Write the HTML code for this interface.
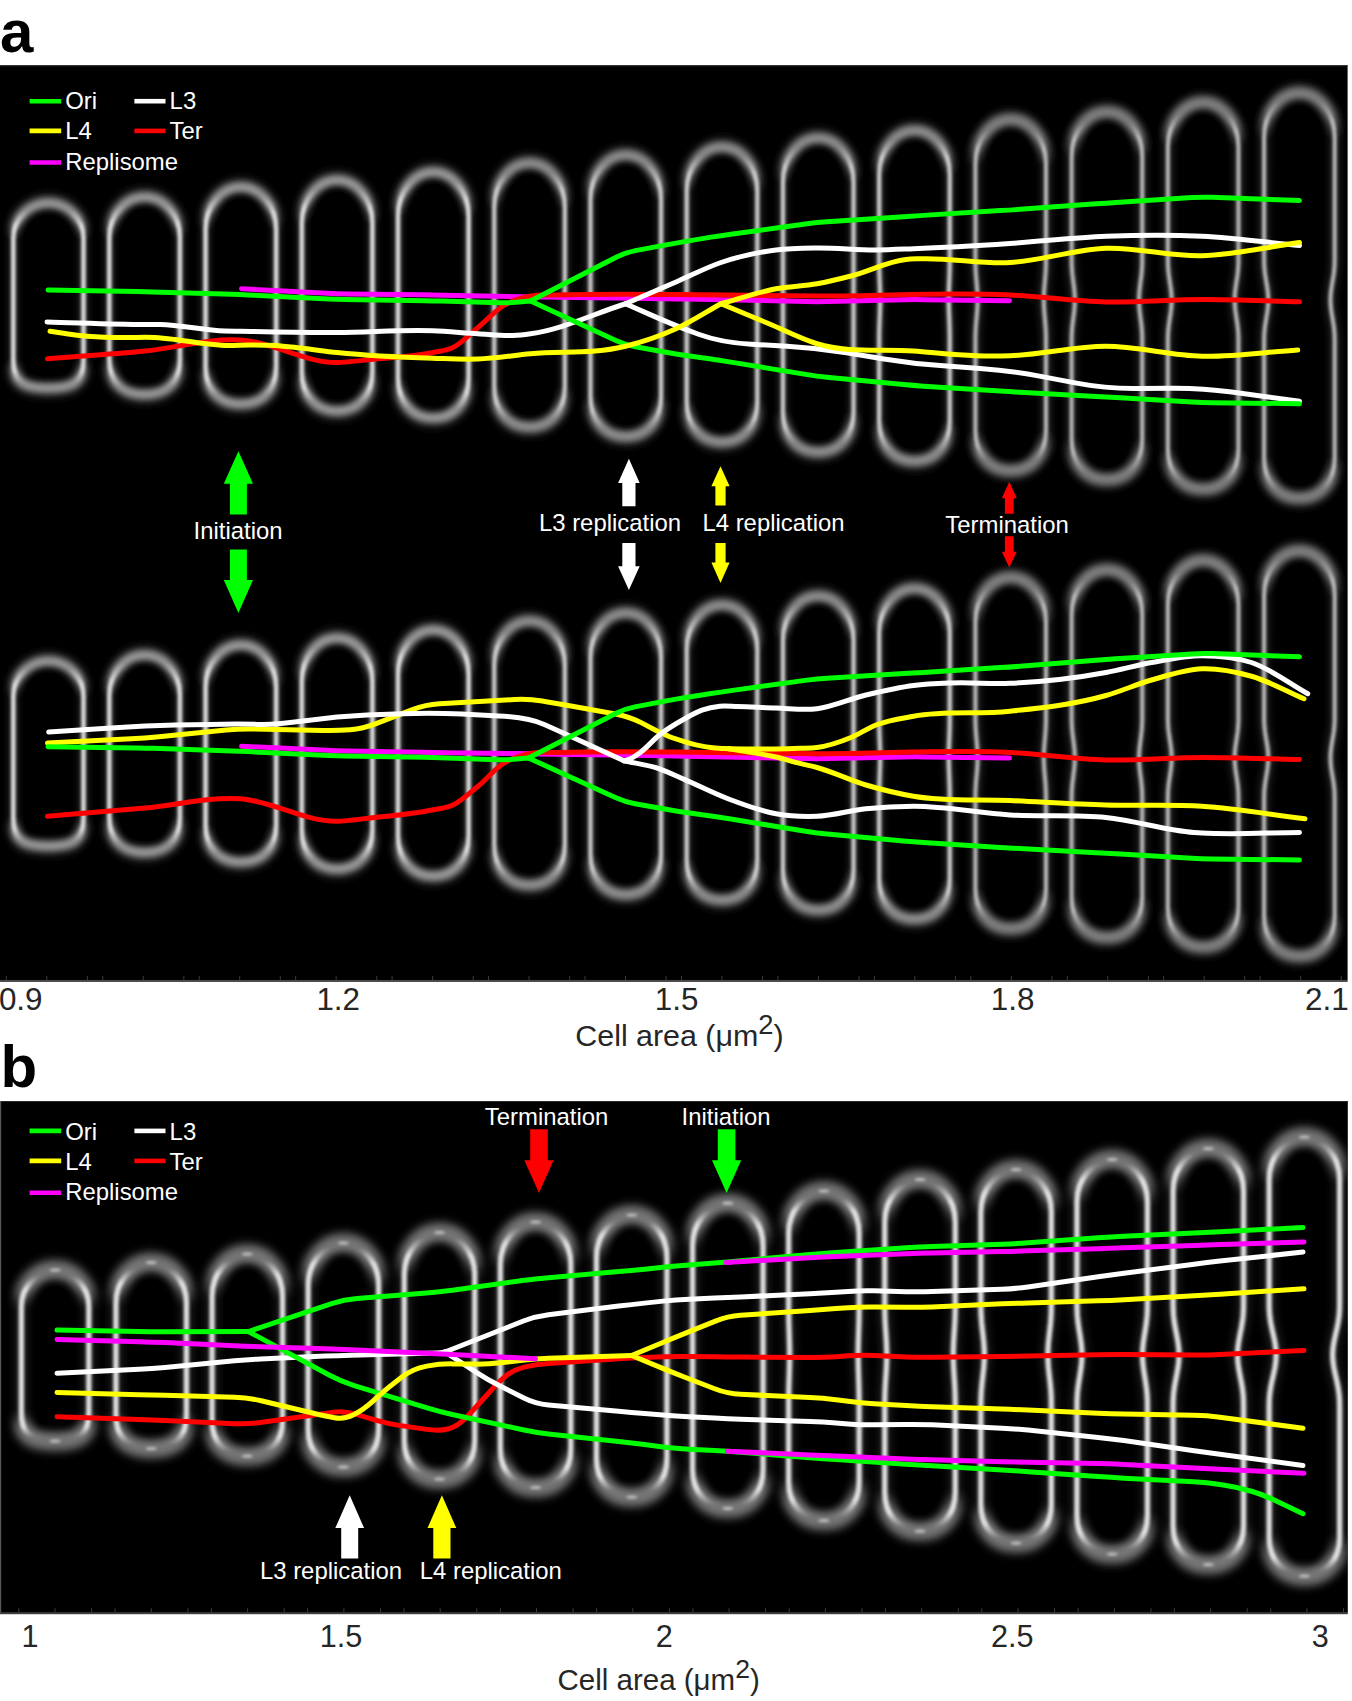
<!DOCTYPE html>
<html lang="en">
<head>
<meta charset="utf-8">
<title>Figure</title>
<style>
html,body{margin:0;padding:0;background:#fff;}
body{width:1352px;height:1701px;overflow:hidden;}
svg{display:block;font-family:"Liberation Sans",sans-serif;}
</style>
</head>
<body>
<svg width="1352" height="1701" viewBox="0 0 1352 1701">
<defs>
<filter id="bl1" filterUnits="userSpaceOnUse" x="-40" y="0" width="1440" height="1701"><feGaussianBlur stdDeviation="1.5"/></filter>
<filter id="bl3" filterUnits="userSpaceOnUse" x="-40" y="0" width="1440" height="1701"><feGaussianBlur stdDeviation="4"/></filter>
<filter id="bl5" filterUnits="userSpaceOnUse" x="-40" y="0" width="1440" height="1701"><feGaussianBlur stdDeviation="5"/></filter>
<filter id="bl2b" filterUnits="userSpaceOnUse" x="-40" y="0" width="1440" height="1701"><feGaussianBlur stdDeviation="3.5"/></filter>
<filter id="bl2" filterUnits="userSpaceOnUse" x="-40" y="0" width="1440" height="1701"><feGaussianBlur stdDeviation="3"/></filter>
<linearGradient id="g1" gradientUnits="userSpaceOnUse" x1="0" y1="203" x2="0" y2="388"><stop offset="0" stop-color="#e0e0e0" stop-opacity="0"/><stop offset="0.04" stop-color="#e0e0e0" stop-opacity="0"/><stop offset="0.12" stop-color="#e0e0e0" stop-opacity="1"/><stop offset="0.91" stop-color="#e0e0e0" stop-opacity="1"/><stop offset="0.97" stop-color="#e0e0e0" stop-opacity="0"/><stop offset="1" stop-color="#e0e0e0" stop-opacity="0"/></linearGradient>
<linearGradient id="h1" gradientUnits="userSpaceOnUse" x1="0" y1="203" x2="0" y2="388"><stop offset="0.08" stop-color="#a0a0a0" stop-opacity="1"/><stop offset="0.19" stop-color="#a0a0a0" stop-opacity="0.25"/><stop offset="0.85" stop-color="#a0a0a0" stop-opacity="0.25"/><stop offset="0.94" stop-color="#a0a0a0" stop-opacity="1"/></linearGradient>
<linearGradient id="g2" gradientUnits="userSpaceOnUse" x1="0" y1="197" x2="0" y2="394.5"><stop offset="0" stop-color="#e0e0e0" stop-opacity="0"/><stop offset="0.04" stop-color="#e0e0e0" stop-opacity="0"/><stop offset="0.13" stop-color="#e0e0e0" stop-opacity="1"/><stop offset="0.89" stop-color="#e0e0e0" stop-opacity="1"/><stop offset="0.96" stop-color="#e0e0e0" stop-opacity="0"/><stop offset="1" stop-color="#e0e0e0" stop-opacity="0"/></linearGradient>
<linearGradient id="h2" gradientUnits="userSpaceOnUse" x1="0" y1="197" x2="0" y2="394.5"><stop offset="0.08" stop-color="#a0a0a0" stop-opacity="1"/><stop offset="0.2" stop-color="#a0a0a0" stop-opacity="0.25"/><stop offset="0.82" stop-color="#a0a0a0" stop-opacity="0.25"/><stop offset="0.93" stop-color="#a0a0a0" stop-opacity="1"/></linearGradient>
<linearGradient id="g3" gradientUnits="userSpaceOnUse" x1="0" y1="187" x2="0" y2="404"><stop offset="0" stop-color="#e0e0e0" stop-opacity="0"/><stop offset="0.04" stop-color="#e0e0e0" stop-opacity="0"/><stop offset="0.12" stop-color="#e0e0e0" stop-opacity="1"/><stop offset="0.89" stop-color="#e0e0e0" stop-opacity="1"/><stop offset="0.96" stop-color="#e0e0e0" stop-opacity="0"/><stop offset="1" stop-color="#e0e0e0" stop-opacity="0"/></linearGradient>
<linearGradient id="h3" gradientUnits="userSpaceOnUse" x1="0" y1="187" x2="0" y2="404"><stop offset="0.08" stop-color="#a0a0a0" stop-opacity="1"/><stop offset="0.19" stop-color="#a0a0a0" stop-opacity="0.25"/><stop offset="0.83" stop-color="#a0a0a0" stop-opacity="0.25"/><stop offset="0.93" stop-color="#a0a0a0" stop-opacity="1"/></linearGradient>
<linearGradient id="g4" gradientUnits="userSpaceOnUse" x1="0" y1="180" x2="0" y2="411"><stop offset="0" stop-color="#e0e0e0" stop-opacity="0"/><stop offset="0.04" stop-color="#e0e0e0" stop-opacity="0"/><stop offset="0.12" stop-color="#e0e0e0" stop-opacity="1"/><stop offset="0.9" stop-color="#e0e0e0" stop-opacity="1"/><stop offset="0.96" stop-color="#e0e0e0" stop-opacity="0"/><stop offset="1" stop-color="#e0e0e0" stop-opacity="0"/></linearGradient>
<linearGradient id="h4" gradientUnits="userSpaceOnUse" x1="0" y1="180" x2="0" y2="411"><stop offset="0.07" stop-color="#a0a0a0" stop-opacity="1"/><stop offset="0.19" stop-color="#a0a0a0" stop-opacity="0.25"/><stop offset="0.83" stop-color="#a0a0a0" stop-opacity="0.25"/><stop offset="0.93" stop-color="#a0a0a0" stop-opacity="1"/></linearGradient>
<linearGradient id="g5" gradientUnits="userSpaceOnUse" x1="0" y1="172" x2="0" y2="418"><stop offset="0" stop-color="#e0e0e0" stop-opacity="0"/><stop offset="0.04" stop-color="#e0e0e0" stop-opacity="0"/><stop offset="0.11" stop-color="#e0e0e0" stop-opacity="1"/><stop offset="0.9" stop-color="#e0e0e0" stop-opacity="1"/><stop offset="0.96" stop-color="#e0e0e0" stop-opacity="0"/><stop offset="1" stop-color="#e0e0e0" stop-opacity="0"/></linearGradient>
<linearGradient id="h5" gradientUnits="userSpaceOnUse" x1="0" y1="172" x2="0" y2="418"><stop offset="0.07" stop-color="#a0a0a0" stop-opacity="1"/><stop offset="0.18" stop-color="#a0a0a0" stop-opacity="0.25"/><stop offset="0.84" stop-color="#a0a0a0" stop-opacity="0.25"/><stop offset="0.93" stop-color="#a0a0a0" stop-opacity="1"/></linearGradient>
<linearGradient id="z6" gradientUnits="userSpaceOnUse" x1="0" y1="203" x2="0" y2="388"><stop offset="0.09" stop-color="#343434" stop-opacity="1"/><stop offset="0.19" stop-color="#343434" stop-opacity="0"/><stop offset="0.85" stop-color="#343434" stop-opacity="0"/><stop offset="0.93" stop-color="#343434" stop-opacity="1"/></linearGradient>
<linearGradient id="z7" gradientUnits="userSpaceOnUse" x1="0" y1="197" x2="0" y2="394.5"><stop offset="0.09" stop-color="#343434" stop-opacity="1"/><stop offset="0.2" stop-color="#343434" stop-opacity="0"/><stop offset="0.82" stop-color="#343434" stop-opacity="0"/><stop offset="0.92" stop-color="#343434" stop-opacity="1"/></linearGradient>
<linearGradient id="z8" gradientUnits="userSpaceOnUse" x1="0" y1="187" x2="0" y2="404"><stop offset="0.09" stop-color="#343434" stop-opacity="1"/><stop offset="0.19" stop-color="#343434" stop-opacity="0"/><stop offset="0.83" stop-color="#343434" stop-opacity="0"/><stop offset="0.92" stop-color="#343434" stop-opacity="1"/></linearGradient>
<linearGradient id="z9" gradientUnits="userSpaceOnUse" x1="0" y1="180" x2="0" y2="411"><stop offset="0.08" stop-color="#343434" stop-opacity="1"/><stop offset="0.19" stop-color="#343434" stop-opacity="0"/><stop offset="0.83" stop-color="#343434" stop-opacity="0"/><stop offset="0.92" stop-color="#343434" stop-opacity="1"/></linearGradient>
<linearGradient id="z10" gradientUnits="userSpaceOnUse" x1="0" y1="172" x2="0" y2="418"><stop offset="0.08" stop-color="#343434" stop-opacity="1"/><stop offset="0.18" stop-color="#343434" stop-opacity="0"/><stop offset="0.84" stop-color="#343434" stop-opacity="0"/><stop offset="0.93" stop-color="#343434" stop-opacity="1"/></linearGradient>
<linearGradient id="g11" gradientUnits="userSpaceOnUse" x1="0" y1="163" x2="0" y2="427"><stop offset="0" stop-color="#d2d2d2" stop-opacity="0"/><stop offset="0.04" stop-color="#d2d2d2" stop-opacity="0"/><stop offset="0.1" stop-color="#d2d2d2" stop-opacity="1"/><stop offset="0.91" stop-color="#d2d2d2" stop-opacity="1"/><stop offset="0.97" stop-color="#d2d2d2" stop-opacity="0"/><stop offset="1" stop-color="#d2d2d2" stop-opacity="0"/></linearGradient>
<linearGradient id="h11" gradientUnits="userSpaceOnUse" x1="0" y1="163" x2="0" y2="427"><stop offset="0.07" stop-color="#929292" stop-opacity="1"/><stop offset="0.17" stop-color="#929292" stop-opacity="0.25"/><stop offset="0.85" stop-color="#929292" stop-opacity="0.25"/><stop offset="0.94" stop-color="#929292" stop-opacity="1"/></linearGradient>
<linearGradient id="g12" gradientUnits="userSpaceOnUse" x1="0" y1="155" x2="0" y2="436.5"><stop offset="0" stop-color="#d2d2d2" stop-opacity="0"/><stop offset="0.03" stop-color="#d2d2d2" stop-opacity="0"/><stop offset="0.1" stop-color="#d2d2d2" stop-opacity="1"/><stop offset="0.91" stop-color="#d2d2d2" stop-opacity="1"/><stop offset="0.97" stop-color="#d2d2d2" stop-opacity="0"/><stop offset="1" stop-color="#d2d2d2" stop-opacity="0"/></linearGradient>
<linearGradient id="h12" gradientUnits="userSpaceOnUse" x1="0" y1="155" x2="0" y2="436.5"><stop offset="0.06" stop-color="#929292" stop-opacity="1"/><stop offset="0.16" stop-color="#929292" stop-opacity="0.25"/><stop offset="0.86" stop-color="#929292" stop-opacity="0.25"/><stop offset="0.94" stop-color="#929292" stop-opacity="1"/></linearGradient>
<linearGradient id="g13" gradientUnits="userSpaceOnUse" x1="0" y1="147" x2="0" y2="442"><stop offset="0" stop-color="#d2d2d2" stop-opacity="0"/><stop offset="0.03" stop-color="#d2d2d2" stop-opacity="0"/><stop offset="0.09" stop-color="#d2d2d2" stop-opacity="1"/><stop offset="0.92" stop-color="#d2d2d2" stop-opacity="1"/><stop offset="0.97" stop-color="#d2d2d2" stop-opacity="0"/><stop offset="1" stop-color="#d2d2d2" stop-opacity="0"/></linearGradient>
<linearGradient id="h13" gradientUnits="userSpaceOnUse" x1="0" y1="147" x2="0" y2="442"><stop offset="0.06" stop-color="#929292" stop-opacity="1"/><stop offset="0.15" stop-color="#929292" stop-opacity="0.25"/><stop offset="0.86" stop-color="#929292" stop-opacity="0.25"/><stop offset="0.95" stop-color="#929292" stop-opacity="1"/></linearGradient>
<linearGradient id="g14" gradientUnits="userSpaceOnUse" x1="0" y1="138" x2="0" y2="452"><stop offset="0" stop-color="#d2d2d2" stop-opacity="0"/><stop offset="0.03" stop-color="#d2d2d2" stop-opacity="0"/><stop offset="0.09" stop-color="#d2d2d2" stop-opacity="1"/><stop offset="0.92" stop-color="#d2d2d2" stop-opacity="1"/><stop offset="0.97" stop-color="#d2d2d2" stop-opacity="0"/><stop offset="1" stop-color="#d2d2d2" stop-opacity="0"/></linearGradient>
<linearGradient id="h14" gradientUnits="userSpaceOnUse" x1="0" y1="138" x2="0" y2="452"><stop offset="0.06" stop-color="#929292" stop-opacity="1"/><stop offset="0.14" stop-color="#929292" stop-opacity="0.25"/><stop offset="0.87" stop-color="#929292" stop-opacity="0.25"/><stop offset="0.95" stop-color="#929292" stop-opacity="1"/></linearGradient>
<linearGradient id="g15" gradientUnits="userSpaceOnUse" x1="0" y1="130.5" x2="0" y2="461"><stop offset="0" stop-color="#d2d2d2" stop-opacity="0"/><stop offset="0.03" stop-color="#d2d2d2" stop-opacity="0"/><stop offset="0.08" stop-color="#d2d2d2" stop-opacity="1"/><stop offset="0.92" stop-color="#d2d2d2" stop-opacity="1"/><stop offset="0.97" stop-color="#d2d2d2" stop-opacity="0"/><stop offset="1" stop-color="#d2d2d2" stop-opacity="0"/></linearGradient>
<linearGradient id="h15" gradientUnits="userSpaceOnUse" x1="0" y1="130.5" x2="0" y2="461"><stop offset="0.05" stop-color="#929292" stop-opacity="1"/><stop offset="0.13" stop-color="#929292" stop-opacity="0.25"/><stop offset="0.88" stop-color="#929292" stop-opacity="0.25"/><stop offset="0.95" stop-color="#929292" stop-opacity="1"/></linearGradient>
<linearGradient id="z16" gradientUnits="userSpaceOnUse" x1="0" y1="163" x2="0" y2="427"><stop offset="0.07" stop-color="#343434" stop-opacity="1"/><stop offset="0.17" stop-color="#343434" stop-opacity="0"/><stop offset="0.85" stop-color="#343434" stop-opacity="0"/><stop offset="0.93" stop-color="#343434" stop-opacity="1"/></linearGradient>
<linearGradient id="z17" gradientUnits="userSpaceOnUse" x1="0" y1="155" x2="0" y2="436.5"><stop offset="0.07" stop-color="#343434" stop-opacity="1"/><stop offset="0.16" stop-color="#343434" stop-opacity="0"/><stop offset="0.86" stop-color="#343434" stop-opacity="0"/><stop offset="0.94" stop-color="#343434" stop-opacity="1"/></linearGradient>
<linearGradient id="z18" gradientUnits="userSpaceOnUse" x1="0" y1="147" x2="0" y2="442"><stop offset="0.07" stop-color="#343434" stop-opacity="1"/><stop offset="0.15" stop-color="#343434" stop-opacity="0"/><stop offset="0.86" stop-color="#343434" stop-opacity="0"/><stop offset="0.94" stop-color="#343434" stop-opacity="1"/></linearGradient>
<linearGradient id="z19" gradientUnits="userSpaceOnUse" x1="0" y1="138" x2="0" y2="452"><stop offset="0.06" stop-color="#343434" stop-opacity="1"/><stop offset="0.14" stop-color="#343434" stop-opacity="0"/><stop offset="0.87" stop-color="#343434" stop-opacity="0"/><stop offset="0.94" stop-color="#343434" stop-opacity="1"/></linearGradient>
<linearGradient id="z20" gradientUnits="userSpaceOnUse" x1="0" y1="130.5" x2="0" y2="461"><stop offset="0.06" stop-color="#343434" stop-opacity="1"/><stop offset="0.13" stop-color="#343434" stop-opacity="0"/><stop offset="0.88" stop-color="#343434" stop-opacity="0"/><stop offset="0.95" stop-color="#343434" stop-opacity="1"/></linearGradient>
<linearGradient id="g21" gradientUnits="userSpaceOnUse" x1="0" y1="119.5" x2="0" y2="470.5"><stop offset="0" stop-color="#c2c2c2" stop-opacity="0"/><stop offset="0.03" stop-color="#c2c2c2" stop-opacity="0"/><stop offset="0.08" stop-color="#c2c2c2" stop-opacity="1"/><stop offset="0.93" stop-color="#c2c2c2" stop-opacity="1"/><stop offset="0.97" stop-color="#c2c2c2" stop-opacity="0"/><stop offset="1" stop-color="#c2c2c2" stop-opacity="0"/></linearGradient>
<linearGradient id="h21" gradientUnits="userSpaceOnUse" x1="0" y1="119.5" x2="0" y2="470.5"><stop offset="0.05" stop-color="#848484" stop-opacity="1"/><stop offset="0.13" stop-color="#848484" stop-opacity="0.25"/><stop offset="0.89" stop-color="#848484" stop-opacity="0.25"/><stop offset="0.95" stop-color="#848484" stop-opacity="1"/></linearGradient>
<linearGradient id="g22" gradientUnits="userSpaceOnUse" x1="0" y1="112" x2="0" y2="479.5"><stop offset="0" stop-color="#c2c2c2" stop-opacity="0"/><stop offset="0.03" stop-color="#c2c2c2" stop-opacity="0"/><stop offset="0.07" stop-color="#c2c2c2" stop-opacity="1"/><stop offset="0.93" stop-color="#c2c2c2" stop-opacity="1"/><stop offset="0.98" stop-color="#c2c2c2" stop-opacity="0"/><stop offset="1" stop-color="#c2c2c2" stop-opacity="0"/></linearGradient>
<linearGradient id="h22" gradientUnits="userSpaceOnUse" x1="0" y1="112" x2="0" y2="479.5"><stop offset="0.05" stop-color="#848484" stop-opacity="1"/><stop offset="0.12" stop-color="#848484" stop-opacity="0.25"/><stop offset="0.89" stop-color="#848484" stop-opacity="0.25"/><stop offset="0.96" stop-color="#848484" stop-opacity="1"/></linearGradient>
<linearGradient id="g23" gradientUnits="userSpaceOnUse" x1="0" y1="102.5" x2="0" y2="489"><stop offset="0" stop-color="#c2c2c2" stop-opacity="0"/><stop offset="0.03" stop-color="#c2c2c2" stop-opacity="0"/><stop offset="0.07" stop-color="#c2c2c2" stop-opacity="1"/><stop offset="0.94" stop-color="#c2c2c2" stop-opacity="1"/><stop offset="0.98" stop-color="#c2c2c2" stop-opacity="0"/><stop offset="1" stop-color="#c2c2c2" stop-opacity="0"/></linearGradient>
<linearGradient id="h23" gradientUnits="userSpaceOnUse" x1="0" y1="102.5" x2="0" y2="489"><stop offset="0.05" stop-color="#848484" stop-opacity="1"/><stop offset="0.11" stop-color="#848484" stop-opacity="0.25"/><stop offset="0.9" stop-color="#848484" stop-opacity="0.25"/><stop offset="0.96" stop-color="#848484" stop-opacity="1"/></linearGradient>
<linearGradient id="g24" gradientUnits="userSpaceOnUse" x1="0" y1="93" x2="0" y2="498"><stop offset="0" stop-color="#c2c2c2" stop-opacity="0"/><stop offset="0.02" stop-color="#c2c2c2" stop-opacity="0"/><stop offset="0.07" stop-color="#c2c2c2" stop-opacity="1"/><stop offset="0.94" stop-color="#c2c2c2" stop-opacity="1"/><stop offset="0.98" stop-color="#c2c2c2" stop-opacity="0"/><stop offset="1" stop-color="#c2c2c2" stop-opacity="0"/></linearGradient>
<linearGradient id="h24" gradientUnits="userSpaceOnUse" x1="0" y1="93" x2="0" y2="498"><stop offset="0.04" stop-color="#848484" stop-opacity="1"/><stop offset="0.11" stop-color="#848484" stop-opacity="0.25"/><stop offset="0.9" stop-color="#848484" stop-opacity="0.25"/><stop offset="0.96" stop-color="#848484" stop-opacity="1"/></linearGradient>
<linearGradient id="z25" gradientUnits="userSpaceOnUse" x1="0" y1="119.5" x2="0" y2="470.5"><stop offset="0.06" stop-color="#343434" stop-opacity="1"/><stop offset="0.13" stop-color="#343434" stop-opacity="0"/><stop offset="0.89" stop-color="#343434" stop-opacity="0"/><stop offset="0.95" stop-color="#343434" stop-opacity="1"/></linearGradient>
<linearGradient id="z26" gradientUnits="userSpaceOnUse" x1="0" y1="112" x2="0" y2="479.5"><stop offset="0.05" stop-color="#343434" stop-opacity="1"/><stop offset="0.12" stop-color="#343434" stop-opacity="0"/><stop offset="0.89" stop-color="#343434" stop-opacity="0"/><stop offset="0.95" stop-color="#343434" stop-opacity="1"/></linearGradient>
<linearGradient id="z27" gradientUnits="userSpaceOnUse" x1="0" y1="102.5" x2="0" y2="489"><stop offset="0.05" stop-color="#343434" stop-opacity="1"/><stop offset="0.11" stop-color="#343434" stop-opacity="0"/><stop offset="0.9" stop-color="#343434" stop-opacity="0"/><stop offset="0.95" stop-color="#343434" stop-opacity="1"/></linearGradient>
<linearGradient id="z28" gradientUnits="userSpaceOnUse" x1="0" y1="93" x2="0" y2="498"><stop offset="0.05" stop-color="#343434" stop-opacity="1"/><stop offset="0.11" stop-color="#343434" stop-opacity="0"/><stop offset="0.9" stop-color="#343434" stop-opacity="0"/><stop offset="0.96" stop-color="#343434" stop-opacity="1"/></linearGradient>
<linearGradient id="g29" gradientUnits="userSpaceOnUse" x1="0" y1="661" x2="0" y2="846"><stop offset="0" stop-color="#e0e0e0" stop-opacity="0"/><stop offset="0.04" stop-color="#e0e0e0" stop-opacity="0"/><stop offset="0.12" stop-color="#e0e0e0" stop-opacity="1"/><stop offset="0.91" stop-color="#e0e0e0" stop-opacity="1"/><stop offset="0.97" stop-color="#e0e0e0" stop-opacity="0"/><stop offset="1" stop-color="#e0e0e0" stop-opacity="0"/></linearGradient>
<linearGradient id="h29" gradientUnits="userSpaceOnUse" x1="0" y1="661" x2="0" y2="846"><stop offset="0.08" stop-color="#a0a0a0" stop-opacity="1"/><stop offset="0.19" stop-color="#a0a0a0" stop-opacity="0.25"/><stop offset="0.85" stop-color="#a0a0a0" stop-opacity="0.25"/><stop offset="0.94" stop-color="#a0a0a0" stop-opacity="1"/></linearGradient>
<linearGradient id="g30" gradientUnits="userSpaceOnUse" x1="0" y1="655" x2="0" y2="852.5"><stop offset="0" stop-color="#e0e0e0" stop-opacity="0"/><stop offset="0.04" stop-color="#e0e0e0" stop-opacity="0"/><stop offset="0.13" stop-color="#e0e0e0" stop-opacity="1"/><stop offset="0.89" stop-color="#e0e0e0" stop-opacity="1"/><stop offset="0.96" stop-color="#e0e0e0" stop-opacity="0"/><stop offset="1" stop-color="#e0e0e0" stop-opacity="0"/></linearGradient>
<linearGradient id="h30" gradientUnits="userSpaceOnUse" x1="0" y1="655" x2="0" y2="852.5"><stop offset="0.08" stop-color="#a0a0a0" stop-opacity="1"/><stop offset="0.2" stop-color="#a0a0a0" stop-opacity="0.25"/><stop offset="0.82" stop-color="#a0a0a0" stop-opacity="0.25"/><stop offset="0.93" stop-color="#a0a0a0" stop-opacity="1"/></linearGradient>
<linearGradient id="g31" gradientUnits="userSpaceOnUse" x1="0" y1="645" x2="0" y2="862"><stop offset="0" stop-color="#e0e0e0" stop-opacity="0"/><stop offset="0.04" stop-color="#e0e0e0" stop-opacity="0"/><stop offset="0.12" stop-color="#e0e0e0" stop-opacity="1"/><stop offset="0.89" stop-color="#e0e0e0" stop-opacity="1"/><stop offset="0.96" stop-color="#e0e0e0" stop-opacity="0"/><stop offset="1" stop-color="#e0e0e0" stop-opacity="0"/></linearGradient>
<linearGradient id="h31" gradientUnits="userSpaceOnUse" x1="0" y1="645" x2="0" y2="862"><stop offset="0.08" stop-color="#a0a0a0" stop-opacity="1"/><stop offset="0.19" stop-color="#a0a0a0" stop-opacity="0.25"/><stop offset="0.83" stop-color="#a0a0a0" stop-opacity="0.25"/><stop offset="0.93" stop-color="#a0a0a0" stop-opacity="1"/></linearGradient>
<linearGradient id="g32" gradientUnits="userSpaceOnUse" x1="0" y1="638" x2="0" y2="869"><stop offset="0" stop-color="#e0e0e0" stop-opacity="0"/><stop offset="0.04" stop-color="#e0e0e0" stop-opacity="0"/><stop offset="0.12" stop-color="#e0e0e0" stop-opacity="1"/><stop offset="0.9" stop-color="#e0e0e0" stop-opacity="1"/><stop offset="0.96" stop-color="#e0e0e0" stop-opacity="0"/><stop offset="1" stop-color="#e0e0e0" stop-opacity="0"/></linearGradient>
<linearGradient id="h32" gradientUnits="userSpaceOnUse" x1="0" y1="638" x2="0" y2="869"><stop offset="0.07" stop-color="#a0a0a0" stop-opacity="1"/><stop offset="0.19" stop-color="#a0a0a0" stop-opacity="0.25"/><stop offset="0.83" stop-color="#a0a0a0" stop-opacity="0.25"/><stop offset="0.93" stop-color="#a0a0a0" stop-opacity="1"/></linearGradient>
<linearGradient id="g33" gradientUnits="userSpaceOnUse" x1="0" y1="630" x2="0" y2="876"><stop offset="0" stop-color="#e0e0e0" stop-opacity="0"/><stop offset="0.04" stop-color="#e0e0e0" stop-opacity="0"/><stop offset="0.11" stop-color="#e0e0e0" stop-opacity="1"/><stop offset="0.9" stop-color="#e0e0e0" stop-opacity="1"/><stop offset="0.96" stop-color="#e0e0e0" stop-opacity="0"/><stop offset="1" stop-color="#e0e0e0" stop-opacity="0"/></linearGradient>
<linearGradient id="h33" gradientUnits="userSpaceOnUse" x1="0" y1="630" x2="0" y2="876"><stop offset="0.07" stop-color="#a0a0a0" stop-opacity="1"/><stop offset="0.18" stop-color="#a0a0a0" stop-opacity="0.25"/><stop offset="0.84" stop-color="#a0a0a0" stop-opacity="0.25"/><stop offset="0.93" stop-color="#a0a0a0" stop-opacity="1"/></linearGradient>
<linearGradient id="z34" gradientUnits="userSpaceOnUse" x1="0" y1="661" x2="0" y2="846"><stop offset="0.09" stop-color="#343434" stop-opacity="1"/><stop offset="0.19" stop-color="#343434" stop-opacity="0"/><stop offset="0.85" stop-color="#343434" stop-opacity="0"/><stop offset="0.93" stop-color="#343434" stop-opacity="1"/></linearGradient>
<linearGradient id="z35" gradientUnits="userSpaceOnUse" x1="0" y1="655" x2="0" y2="852.5"><stop offset="0.09" stop-color="#343434" stop-opacity="1"/><stop offset="0.2" stop-color="#343434" stop-opacity="0"/><stop offset="0.82" stop-color="#343434" stop-opacity="0"/><stop offset="0.92" stop-color="#343434" stop-opacity="1"/></linearGradient>
<linearGradient id="z36" gradientUnits="userSpaceOnUse" x1="0" y1="645" x2="0" y2="862"><stop offset="0.09" stop-color="#343434" stop-opacity="1"/><stop offset="0.19" stop-color="#343434" stop-opacity="0"/><stop offset="0.83" stop-color="#343434" stop-opacity="0"/><stop offset="0.92" stop-color="#343434" stop-opacity="1"/></linearGradient>
<linearGradient id="z37" gradientUnits="userSpaceOnUse" x1="0" y1="638" x2="0" y2="869"><stop offset="0.08" stop-color="#343434" stop-opacity="1"/><stop offset="0.19" stop-color="#343434" stop-opacity="0"/><stop offset="0.83" stop-color="#343434" stop-opacity="0"/><stop offset="0.92" stop-color="#343434" stop-opacity="1"/></linearGradient>
<linearGradient id="z38" gradientUnits="userSpaceOnUse" x1="0" y1="630" x2="0" y2="876"><stop offset="0.08" stop-color="#343434" stop-opacity="1"/><stop offset="0.18" stop-color="#343434" stop-opacity="0"/><stop offset="0.84" stop-color="#343434" stop-opacity="0"/><stop offset="0.93" stop-color="#343434" stop-opacity="1"/></linearGradient>
<linearGradient id="g39" gradientUnits="userSpaceOnUse" x1="0" y1="621" x2="0" y2="885"><stop offset="0" stop-color="#d2d2d2" stop-opacity="0"/><stop offset="0.04" stop-color="#d2d2d2" stop-opacity="0"/><stop offset="0.1" stop-color="#d2d2d2" stop-opacity="1"/><stop offset="0.91" stop-color="#d2d2d2" stop-opacity="1"/><stop offset="0.97" stop-color="#d2d2d2" stop-opacity="0"/><stop offset="1" stop-color="#d2d2d2" stop-opacity="0"/></linearGradient>
<linearGradient id="h39" gradientUnits="userSpaceOnUse" x1="0" y1="621" x2="0" y2="885"><stop offset="0.07" stop-color="#929292" stop-opacity="1"/><stop offset="0.17" stop-color="#929292" stop-opacity="0.25"/><stop offset="0.85" stop-color="#929292" stop-opacity="0.25"/><stop offset="0.94" stop-color="#929292" stop-opacity="1"/></linearGradient>
<linearGradient id="g40" gradientUnits="userSpaceOnUse" x1="0" y1="613" x2="0" y2="894.5"><stop offset="0" stop-color="#d2d2d2" stop-opacity="0"/><stop offset="0.03" stop-color="#d2d2d2" stop-opacity="0"/><stop offset="0.1" stop-color="#d2d2d2" stop-opacity="1"/><stop offset="0.91" stop-color="#d2d2d2" stop-opacity="1"/><stop offset="0.97" stop-color="#d2d2d2" stop-opacity="0"/><stop offset="1" stop-color="#d2d2d2" stop-opacity="0"/></linearGradient>
<linearGradient id="h40" gradientUnits="userSpaceOnUse" x1="0" y1="613" x2="0" y2="894.5"><stop offset="0.06" stop-color="#929292" stop-opacity="1"/><stop offset="0.16" stop-color="#929292" stop-opacity="0.25"/><stop offset="0.86" stop-color="#929292" stop-opacity="0.25"/><stop offset="0.94" stop-color="#929292" stop-opacity="1"/></linearGradient>
<linearGradient id="g41" gradientUnits="userSpaceOnUse" x1="0" y1="605" x2="0" y2="900"><stop offset="0" stop-color="#d2d2d2" stop-opacity="0"/><stop offset="0.03" stop-color="#d2d2d2" stop-opacity="0"/><stop offset="0.09" stop-color="#d2d2d2" stop-opacity="1"/><stop offset="0.92" stop-color="#d2d2d2" stop-opacity="1"/><stop offset="0.97" stop-color="#d2d2d2" stop-opacity="0"/><stop offset="1" stop-color="#d2d2d2" stop-opacity="0"/></linearGradient>
<linearGradient id="h41" gradientUnits="userSpaceOnUse" x1="0" y1="605" x2="0" y2="900"><stop offset="0.06" stop-color="#929292" stop-opacity="1"/><stop offset="0.15" stop-color="#929292" stop-opacity="0.25"/><stop offset="0.86" stop-color="#929292" stop-opacity="0.25"/><stop offset="0.95" stop-color="#929292" stop-opacity="1"/></linearGradient>
<linearGradient id="g42" gradientUnits="userSpaceOnUse" x1="0" y1="596" x2="0" y2="910"><stop offset="0" stop-color="#d2d2d2" stop-opacity="0"/><stop offset="0.03" stop-color="#d2d2d2" stop-opacity="0"/><stop offset="0.09" stop-color="#d2d2d2" stop-opacity="1"/><stop offset="0.92" stop-color="#d2d2d2" stop-opacity="1"/><stop offset="0.97" stop-color="#d2d2d2" stop-opacity="0"/><stop offset="1" stop-color="#d2d2d2" stop-opacity="0"/></linearGradient>
<linearGradient id="h42" gradientUnits="userSpaceOnUse" x1="0" y1="596" x2="0" y2="910"><stop offset="0.06" stop-color="#929292" stop-opacity="1"/><stop offset="0.14" stop-color="#929292" stop-opacity="0.25"/><stop offset="0.87" stop-color="#929292" stop-opacity="0.25"/><stop offset="0.95" stop-color="#929292" stop-opacity="1"/></linearGradient>
<linearGradient id="g43" gradientUnits="userSpaceOnUse" x1="0" y1="588.5" x2="0" y2="919"><stop offset="0" stop-color="#d2d2d2" stop-opacity="0"/><stop offset="0.03" stop-color="#d2d2d2" stop-opacity="0"/><stop offset="0.08" stop-color="#d2d2d2" stop-opacity="1"/><stop offset="0.92" stop-color="#d2d2d2" stop-opacity="1"/><stop offset="0.97" stop-color="#d2d2d2" stop-opacity="0"/><stop offset="1" stop-color="#d2d2d2" stop-opacity="0"/></linearGradient>
<linearGradient id="h43" gradientUnits="userSpaceOnUse" x1="0" y1="588.5" x2="0" y2="919"><stop offset="0.05" stop-color="#929292" stop-opacity="1"/><stop offset="0.13" stop-color="#929292" stop-opacity="0.25"/><stop offset="0.88" stop-color="#929292" stop-opacity="0.25"/><stop offset="0.95" stop-color="#929292" stop-opacity="1"/></linearGradient>
<linearGradient id="z44" gradientUnits="userSpaceOnUse" x1="0" y1="621" x2="0" y2="885"><stop offset="0.07" stop-color="#343434" stop-opacity="1"/><stop offset="0.17" stop-color="#343434" stop-opacity="0"/><stop offset="0.85" stop-color="#343434" stop-opacity="0"/><stop offset="0.93" stop-color="#343434" stop-opacity="1"/></linearGradient>
<linearGradient id="z45" gradientUnits="userSpaceOnUse" x1="0" y1="613" x2="0" y2="894.5"><stop offset="0.07" stop-color="#343434" stop-opacity="1"/><stop offset="0.16" stop-color="#343434" stop-opacity="0"/><stop offset="0.86" stop-color="#343434" stop-opacity="0"/><stop offset="0.94" stop-color="#343434" stop-opacity="1"/></linearGradient>
<linearGradient id="z46" gradientUnits="userSpaceOnUse" x1="0" y1="605" x2="0" y2="900"><stop offset="0.07" stop-color="#343434" stop-opacity="1"/><stop offset="0.15" stop-color="#343434" stop-opacity="0"/><stop offset="0.86" stop-color="#343434" stop-opacity="0"/><stop offset="0.94" stop-color="#343434" stop-opacity="1"/></linearGradient>
<linearGradient id="z47" gradientUnits="userSpaceOnUse" x1="0" y1="596" x2="0" y2="910"><stop offset="0.06" stop-color="#343434" stop-opacity="1"/><stop offset="0.14" stop-color="#343434" stop-opacity="0"/><stop offset="0.87" stop-color="#343434" stop-opacity="0"/><stop offset="0.94" stop-color="#343434" stop-opacity="1"/></linearGradient>
<linearGradient id="z48" gradientUnits="userSpaceOnUse" x1="0" y1="588.5" x2="0" y2="919"><stop offset="0.06" stop-color="#343434" stop-opacity="1"/><stop offset="0.13" stop-color="#343434" stop-opacity="0"/><stop offset="0.88" stop-color="#343434" stop-opacity="0"/><stop offset="0.95" stop-color="#343434" stop-opacity="1"/></linearGradient>
<linearGradient id="g49" gradientUnits="userSpaceOnUse" x1="0" y1="577.5" x2="0" y2="928.5"><stop offset="0" stop-color="#c2c2c2" stop-opacity="0"/><stop offset="0.03" stop-color="#c2c2c2" stop-opacity="0"/><stop offset="0.08" stop-color="#c2c2c2" stop-opacity="1"/><stop offset="0.93" stop-color="#c2c2c2" stop-opacity="1"/><stop offset="0.97" stop-color="#c2c2c2" stop-opacity="0"/><stop offset="1" stop-color="#c2c2c2" stop-opacity="0"/></linearGradient>
<linearGradient id="h49" gradientUnits="userSpaceOnUse" x1="0" y1="577.5" x2="0" y2="928.5"><stop offset="0.05" stop-color="#848484" stop-opacity="1"/><stop offset="0.13" stop-color="#848484" stop-opacity="0.25"/><stop offset="0.89" stop-color="#848484" stop-opacity="0.25"/><stop offset="0.95" stop-color="#848484" stop-opacity="1"/></linearGradient>
<linearGradient id="g50" gradientUnits="userSpaceOnUse" x1="0" y1="570" x2="0" y2="937.5"><stop offset="0" stop-color="#c2c2c2" stop-opacity="0"/><stop offset="0.03" stop-color="#c2c2c2" stop-opacity="0"/><stop offset="0.07" stop-color="#c2c2c2" stop-opacity="1"/><stop offset="0.93" stop-color="#c2c2c2" stop-opacity="1"/><stop offset="0.98" stop-color="#c2c2c2" stop-opacity="0"/><stop offset="1" stop-color="#c2c2c2" stop-opacity="0"/></linearGradient>
<linearGradient id="h50" gradientUnits="userSpaceOnUse" x1="0" y1="570" x2="0" y2="937.5"><stop offset="0.05" stop-color="#848484" stop-opacity="1"/><stop offset="0.12" stop-color="#848484" stop-opacity="0.25"/><stop offset="0.89" stop-color="#848484" stop-opacity="0.25"/><stop offset="0.96" stop-color="#848484" stop-opacity="1"/></linearGradient>
<linearGradient id="g51" gradientUnits="userSpaceOnUse" x1="0" y1="560.5" x2="0" y2="947"><stop offset="0" stop-color="#c2c2c2" stop-opacity="0"/><stop offset="0.03" stop-color="#c2c2c2" stop-opacity="0"/><stop offset="0.07" stop-color="#c2c2c2" stop-opacity="1"/><stop offset="0.94" stop-color="#c2c2c2" stop-opacity="1"/><stop offset="0.98" stop-color="#c2c2c2" stop-opacity="0"/><stop offset="1" stop-color="#c2c2c2" stop-opacity="0"/></linearGradient>
<linearGradient id="h51" gradientUnits="userSpaceOnUse" x1="0" y1="560.5" x2="0" y2="947"><stop offset="0.05" stop-color="#848484" stop-opacity="1"/><stop offset="0.11" stop-color="#848484" stop-opacity="0.25"/><stop offset="0.9" stop-color="#848484" stop-opacity="0.25"/><stop offset="0.96" stop-color="#848484" stop-opacity="1"/></linearGradient>
<linearGradient id="g52" gradientUnits="userSpaceOnUse" x1="0" y1="551" x2="0" y2="956"><stop offset="0" stop-color="#c2c2c2" stop-opacity="0"/><stop offset="0.02" stop-color="#c2c2c2" stop-opacity="0"/><stop offset="0.07" stop-color="#c2c2c2" stop-opacity="1"/><stop offset="0.94" stop-color="#c2c2c2" stop-opacity="1"/><stop offset="0.98" stop-color="#c2c2c2" stop-opacity="0"/><stop offset="1" stop-color="#c2c2c2" stop-opacity="0"/></linearGradient>
<linearGradient id="h52" gradientUnits="userSpaceOnUse" x1="0" y1="551" x2="0" y2="956"><stop offset="0.04" stop-color="#848484" stop-opacity="1"/><stop offset="0.11" stop-color="#848484" stop-opacity="0.25"/><stop offset="0.9" stop-color="#848484" stop-opacity="0.25"/><stop offset="0.96" stop-color="#848484" stop-opacity="1"/></linearGradient>
<linearGradient id="z53" gradientUnits="userSpaceOnUse" x1="0" y1="577.5" x2="0" y2="928.5"><stop offset="0.06" stop-color="#343434" stop-opacity="1"/><stop offset="0.13" stop-color="#343434" stop-opacity="0"/><stop offset="0.89" stop-color="#343434" stop-opacity="0"/><stop offset="0.95" stop-color="#343434" stop-opacity="1"/></linearGradient>
<linearGradient id="z54" gradientUnits="userSpaceOnUse" x1="0" y1="570" x2="0" y2="937.5"><stop offset="0.05" stop-color="#343434" stop-opacity="1"/><stop offset="0.12" stop-color="#343434" stop-opacity="0"/><stop offset="0.89" stop-color="#343434" stop-opacity="0"/><stop offset="0.95" stop-color="#343434" stop-opacity="1"/></linearGradient>
<linearGradient id="z55" gradientUnits="userSpaceOnUse" x1="0" y1="560.5" x2="0" y2="947"><stop offset="0.05" stop-color="#343434" stop-opacity="1"/><stop offset="0.11" stop-color="#343434" stop-opacity="0"/><stop offset="0.9" stop-color="#343434" stop-opacity="0"/><stop offset="0.95" stop-color="#343434" stop-opacity="1"/></linearGradient>
<linearGradient id="z56" gradientUnits="userSpaceOnUse" x1="0" y1="551" x2="0" y2="956"><stop offset="0.05" stop-color="#343434" stop-opacity="1"/><stop offset="0.11" stop-color="#343434" stop-opacity="0"/><stop offset="0.9" stop-color="#343434" stop-opacity="0"/><stop offset="0.96" stop-color="#343434" stop-opacity="1"/></linearGradient>
<clipPath id="cpa"><rect x="0" y="65.3" width="1347.6" height="915.1"/></clipPath>
<clipPath id="cpb"><rect x="0" y="1101" width="1347.8" height="511.8"/></clipPath>
<linearGradient id="g57" gradientUnits="userSpaceOnUse" x1="0" y1="1270.5" x2="0" y2="1440.5"><stop offset="0" stop-color="#e2e2e2" stop-opacity="0"/><stop offset="0.03" stop-color="#e2e2e2" stop-opacity="0"/><stop offset="0.11" stop-color="#e2e2e2" stop-opacity="1"/><stop offset="0.92" stop-color="#e2e2e2" stop-opacity="1"/><stop offset="0.98" stop-color="#e2e2e2" stop-opacity="0"/><stop offset="1" stop-color="#e2e2e2" stop-opacity="0"/></linearGradient>
<linearGradient id="h57" gradientUnits="userSpaceOnUse" x1="0" y1="1270.5" x2="0" y2="1440.5"><stop offset="0.08" stop-color="#7a7a7a" stop-opacity="1"/><stop offset="0.21" stop-color="#7a7a7a" stop-opacity="0.25"/><stop offset="0.84" stop-color="#7a7a7a" stop-opacity="0.25"/><stop offset="0.93" stop-color="#7a7a7a" stop-opacity="1"/></linearGradient>
<linearGradient id="g58" gradientUnits="userSpaceOnUse" x1="0" y1="1263" x2="0" y2="1448"><stop offset="0" stop-color="#e2e2e2" stop-opacity="0"/><stop offset="0.03" stop-color="#e2e2e2" stop-opacity="0"/><stop offset="0.11" stop-color="#e2e2e2" stop-opacity="1"/><stop offset="0.91" stop-color="#e2e2e2" stop-opacity="1"/><stop offset="0.98" stop-color="#e2e2e2" stop-opacity="0"/><stop offset="1" stop-color="#e2e2e2" stop-opacity="0"/></linearGradient>
<linearGradient id="h58" gradientUnits="userSpaceOnUse" x1="0" y1="1263" x2="0" y2="1448"><stop offset="0.09" stop-color="#7a7a7a" stop-opacity="1"/><stop offset="0.22" stop-color="#7a7a7a" stop-opacity="0.25"/><stop offset="0.82" stop-color="#7a7a7a" stop-opacity="0.25"/><stop offset="0.93" stop-color="#7a7a7a" stop-opacity="1"/></linearGradient>
<linearGradient id="g59" gradientUnits="userSpaceOnUse" x1="0" y1="1254.5" x2="0" y2="1455.5"><stop offset="0" stop-color="#e2e2e2" stop-opacity="0"/><stop offset="0.03" stop-color="#e2e2e2" stop-opacity="0"/><stop offset="0.1" stop-color="#e2e2e2" stop-opacity="1"/><stop offset="0.91" stop-color="#e2e2e2" stop-opacity="1"/><stop offset="0.98" stop-color="#e2e2e2" stop-opacity="0"/><stop offset="1" stop-color="#e2e2e2" stop-opacity="0"/></linearGradient>
<linearGradient id="h59" gradientUnits="userSpaceOnUse" x1="0" y1="1254.5" x2="0" y2="1455.5"><stop offset="0.08" stop-color="#7a7a7a" stop-opacity="1"/><stop offset="0.21" stop-color="#7a7a7a" stop-opacity="0.25"/><stop offset="0.83" stop-color="#7a7a7a" stop-opacity="0.25"/><stop offset="0.93" stop-color="#7a7a7a" stop-opacity="1"/></linearGradient>
<linearGradient id="g60" gradientUnits="userSpaceOnUse" x1="0" y1="1243.5" x2="0" y2="1466.5"><stop offset="0" stop-color="#e2e2e2" stop-opacity="0"/><stop offset="0.02" stop-color="#e2e2e2" stop-opacity="0"/><stop offset="0.09" stop-color="#e2e2e2" stop-opacity="1"/><stop offset="0.92" stop-color="#e2e2e2" stop-opacity="1"/><stop offset="0.98" stop-color="#e2e2e2" stop-opacity="0"/><stop offset="1" stop-color="#e2e2e2" stop-opacity="0"/></linearGradient>
<linearGradient id="h60" gradientUnits="userSpaceOnUse" x1="0" y1="1243.5" x2="0" y2="1466.5"><stop offset="0.08" stop-color="#7a7a7a" stop-opacity="1"/><stop offset="0.19" stop-color="#7a7a7a" stop-opacity="0.25"/><stop offset="0.83" stop-color="#7a7a7a" stop-opacity="0.25"/><stop offset="0.93" stop-color="#7a7a7a" stop-opacity="1"/></linearGradient>
<linearGradient id="g61" gradientUnits="userSpaceOnUse" x1="0" y1="1233" x2="0" y2="1478.5"><stop offset="0" stop-color="#e2e2e2" stop-opacity="0"/><stop offset="0.02" stop-color="#e2e2e2" stop-opacity="0"/><stop offset="0.09" stop-color="#e2e2e2" stop-opacity="1"/><stop offset="0.92" stop-color="#e2e2e2" stop-opacity="1"/><stop offset="0.98" stop-color="#e2e2e2" stop-opacity="0"/><stop offset="1" stop-color="#e2e2e2" stop-opacity="0"/></linearGradient>
<linearGradient id="h61" gradientUnits="userSpaceOnUse" x1="0" y1="1233" x2="0" y2="1478.5"><stop offset="0.07" stop-color="#7a7a7a" stop-opacity="1"/><stop offset="0.17" stop-color="#7a7a7a" stop-opacity="0.25"/><stop offset="0.85" stop-color="#7a7a7a" stop-opacity="0.25"/><stop offset="0.94" stop-color="#7a7a7a" stop-opacity="1"/></linearGradient>
<linearGradient id="g62" gradientUnits="userSpaceOnUse" x1="0" y1="1222.5" x2="0" y2="1487"><stop offset="0" stop-color="#e2e2e2" stop-opacity="0"/><stop offset="0.02" stop-color="#e2e2e2" stop-opacity="0"/><stop offset="0.08" stop-color="#e2e2e2" stop-opacity="1"/><stop offset="0.93" stop-color="#e2e2e2" stop-opacity="1"/><stop offset="0.98" stop-color="#e2e2e2" stop-opacity="0"/><stop offset="1" stop-color="#e2e2e2" stop-opacity="0"/></linearGradient>
<linearGradient id="h62" gradientUnits="userSpaceOnUse" x1="0" y1="1222.5" x2="0" y2="1487"><stop offset="0.06" stop-color="#7a7a7a" stop-opacity="1"/><stop offset="0.16" stop-color="#7a7a7a" stop-opacity="0.25"/><stop offset="0.86" stop-color="#7a7a7a" stop-opacity="0.25"/><stop offset="0.94" stop-color="#7a7a7a" stop-opacity="1"/></linearGradient>
<linearGradient id="g63" gradientUnits="userSpaceOnUse" x1="0" y1="1215.5" x2="0" y2="1496.5"><stop offset="0" stop-color="#e2e2e2" stop-opacity="0"/><stop offset="0.02" stop-color="#e2e2e2" stop-opacity="0"/><stop offset="0.07" stop-color="#e2e2e2" stop-opacity="1"/><stop offset="0.93" stop-color="#e2e2e2" stop-opacity="1"/><stop offset="0.98" stop-color="#e2e2e2" stop-opacity="0"/><stop offset="1" stop-color="#e2e2e2" stop-opacity="0"/></linearGradient>
<linearGradient id="h63" gradientUnits="userSpaceOnUse" x1="0" y1="1215.5" x2="0" y2="1496.5"><stop offset="0.06" stop-color="#7a7a7a" stop-opacity="1"/><stop offset="0.15" stop-color="#7a7a7a" stop-opacity="0.25"/><stop offset="0.86" stop-color="#7a7a7a" stop-opacity="0.25"/><stop offset="0.95" stop-color="#7a7a7a" stop-opacity="1"/></linearGradient>
<linearGradient id="g64" gradientUnits="userSpaceOnUse" x1="0" y1="1203.7" x2="0" y2="1507.8"><stop offset="0" stop-color="#e2e2e2" stop-opacity="0"/><stop offset="0.02" stop-color="#e2e2e2" stop-opacity="0"/><stop offset="0.07" stop-color="#e2e2e2" stop-opacity="1"/><stop offset="0.94" stop-color="#e2e2e2" stop-opacity="1"/><stop offset="0.99" stop-color="#e2e2e2" stop-opacity="0"/><stop offset="1" stop-color="#e2e2e2" stop-opacity="0"/></linearGradient>
<linearGradient id="h64" gradientUnits="userSpaceOnUse" x1="0" y1="1203.7" x2="0" y2="1507.8"><stop offset="0.06" stop-color="#7a7a7a" stop-opacity="1"/><stop offset="0.14" stop-color="#7a7a7a" stop-opacity="0.25"/><stop offset="0.88" stop-color="#7a7a7a" stop-opacity="0.25"/><stop offset="0.95" stop-color="#7a7a7a" stop-opacity="1"/></linearGradient>
<linearGradient id="g65" gradientUnits="userSpaceOnUse" x1="0" y1="1191.5" x2="0" y2="1520"><stop offset="0" stop-color="#e2e2e2" stop-opacity="0"/><stop offset="0.02" stop-color="#e2e2e2" stop-opacity="0"/><stop offset="0.06" stop-color="#e2e2e2" stop-opacity="1"/><stop offset="0.94" stop-color="#e2e2e2" stop-opacity="1"/><stop offset="0.99" stop-color="#e2e2e2" stop-opacity="0"/><stop offset="1" stop-color="#e2e2e2" stop-opacity="0"/></linearGradient>
<linearGradient id="h65" gradientUnits="userSpaceOnUse" x1="0" y1="1191.5" x2="0" y2="1520"><stop offset="0.05" stop-color="#7a7a7a" stop-opacity="1"/><stop offset="0.13" stop-color="#7a7a7a" stop-opacity="0.25"/><stop offset="0.88" stop-color="#7a7a7a" stop-opacity="0.25"/><stop offset="0.95" stop-color="#7a7a7a" stop-opacity="1"/></linearGradient>
<linearGradient id="g66" gradientUnits="userSpaceOnUse" x1="0" y1="1180" x2="0" y2="1530.5"><stop offset="0" stop-color="#e2e2e2" stop-opacity="0"/><stop offset="0.01" stop-color="#e2e2e2" stop-opacity="0"/><stop offset="0.06" stop-color="#e2e2e2" stop-opacity="1"/><stop offset="0.95" stop-color="#e2e2e2" stop-opacity="1"/><stop offset="0.99" stop-color="#e2e2e2" stop-opacity="0"/><stop offset="1" stop-color="#e2e2e2" stop-opacity="0"/></linearGradient>
<linearGradient id="h66" gradientUnits="userSpaceOnUse" x1="0" y1="1180" x2="0" y2="1530.5"><stop offset="0.05" stop-color="#7a7a7a" stop-opacity="1"/><stop offset="0.12" stop-color="#7a7a7a" stop-opacity="0.25"/><stop offset="0.89" stop-color="#7a7a7a" stop-opacity="0.25"/><stop offset="0.96" stop-color="#7a7a7a" stop-opacity="1"/></linearGradient>
<linearGradient id="g67" gradientUnits="userSpaceOnUse" x1="0" y1="1170" x2="0" y2="1542.5"><stop offset="0" stop-color="#e2e2e2" stop-opacity="0"/><stop offset="0.01" stop-color="#e2e2e2" stop-opacity="0"/><stop offset="0.06" stop-color="#e2e2e2" stop-opacity="1"/><stop offset="0.95" stop-color="#e2e2e2" stop-opacity="1"/><stop offset="0.99" stop-color="#e2e2e2" stop-opacity="0"/><stop offset="1" stop-color="#e2e2e2" stop-opacity="0"/></linearGradient>
<linearGradient id="h67" gradientUnits="userSpaceOnUse" x1="0" y1="1170" x2="0" y2="1542.5"><stop offset="0.05" stop-color="#7a7a7a" stop-opacity="1"/><stop offset="0.11" stop-color="#7a7a7a" stop-opacity="0.25"/><stop offset="0.9" stop-color="#7a7a7a" stop-opacity="0.25"/><stop offset="0.96" stop-color="#7a7a7a" stop-opacity="1"/></linearGradient>
<linearGradient id="g68" gradientUnits="userSpaceOnUse" x1="0" y1="1160" x2="0" y2="1553.5"><stop offset="0" stop-color="#e2e2e2" stop-opacity="0"/><stop offset="0.01" stop-color="#e2e2e2" stop-opacity="0"/><stop offset="0.05" stop-color="#e2e2e2" stop-opacity="1"/><stop offset="0.95" stop-color="#e2e2e2" stop-opacity="1"/><stop offset="0.99" stop-color="#e2e2e2" stop-opacity="0"/><stop offset="1" stop-color="#e2e2e2" stop-opacity="0"/></linearGradient>
<linearGradient id="h68" gradientUnits="userSpaceOnUse" x1="0" y1="1160" x2="0" y2="1553.5"><stop offset="0.04" stop-color="#7a7a7a" stop-opacity="1"/><stop offset="0.11" stop-color="#7a7a7a" stop-opacity="0.25"/><stop offset="0.9" stop-color="#7a7a7a" stop-opacity="0.25"/><stop offset="0.96" stop-color="#7a7a7a" stop-opacity="1"/></linearGradient>
<linearGradient id="g69" gradientUnits="userSpaceOnUse" x1="0" y1="1149" x2="0" y2="1564"><stop offset="0" stop-color="#e2e2e2" stop-opacity="0"/><stop offset="0.01" stop-color="#e2e2e2" stop-opacity="0"/><stop offset="0.05" stop-color="#e2e2e2" stop-opacity="1"/><stop offset="0.95" stop-color="#e2e2e2" stop-opacity="1"/><stop offset="0.99" stop-color="#e2e2e2" stop-opacity="0"/><stop offset="1" stop-color="#e2e2e2" stop-opacity="0"/></linearGradient>
<linearGradient id="h69" gradientUnits="userSpaceOnUse" x1="0" y1="1149" x2="0" y2="1564"><stop offset="0.04" stop-color="#7a7a7a" stop-opacity="1"/><stop offset="0.1" stop-color="#7a7a7a" stop-opacity="0.25"/><stop offset="0.91" stop-color="#7a7a7a" stop-opacity="0.25"/><stop offset="0.96" stop-color="#7a7a7a" stop-opacity="1"/></linearGradient>
<linearGradient id="g70" gradientUnits="userSpaceOnUse" x1="0" y1="1137.5" x2="0" y2="1575.5"><stop offset="0" stop-color="#e2e2e2" stop-opacity="0"/><stop offset="0.01" stop-color="#e2e2e2" stop-opacity="0"/><stop offset="0.05" stop-color="#e2e2e2" stop-opacity="1"/><stop offset="0.96" stop-color="#e2e2e2" stop-opacity="1"/><stop offset="0.99" stop-color="#e2e2e2" stop-opacity="0"/><stop offset="1" stop-color="#e2e2e2" stop-opacity="0"/></linearGradient>
<linearGradient id="h70" gradientUnits="userSpaceOnUse" x1="0" y1="1137.5" x2="0" y2="1575.5"><stop offset="0.04" stop-color="#7a7a7a" stop-opacity="1"/><stop offset="0.1" stop-color="#7a7a7a" stop-opacity="0.25"/><stop offset="0.91" stop-color="#7a7a7a" stop-opacity="0.25"/><stop offset="0.97" stop-color="#7a7a7a" stop-opacity="1"/></linearGradient>
<linearGradient id="z71" gradientUnits="userSpaceOnUse" x1="0" y1="1270.5" x2="0" y2="1440.5"><stop offset="0.1" stop-color="#545454" stop-opacity="1"/><stop offset="0.21" stop-color="#545454" stop-opacity="0"/><stop offset="0.84" stop-color="#545454" stop-opacity="0"/><stop offset="0.93" stop-color="#545454" stop-opacity="1"/></linearGradient>
<linearGradient id="z72" gradientUnits="userSpaceOnUse" x1="0" y1="1263" x2="0" y2="1448"><stop offset="0.1" stop-color="#545454" stop-opacity="1"/><stop offset="0.22" stop-color="#545454" stop-opacity="0"/><stop offset="0.82" stop-color="#545454" stop-opacity="0"/><stop offset="0.92" stop-color="#545454" stop-opacity="1"/></linearGradient>
<linearGradient id="z73" gradientUnits="userSpaceOnUse" x1="0" y1="1254.5" x2="0" y2="1455.5"><stop offset="0.09" stop-color="#545454" stop-opacity="1"/><stop offset="0.21" stop-color="#545454" stop-opacity="0"/><stop offset="0.83" stop-color="#545454" stop-opacity="0"/><stop offset="0.92" stop-color="#545454" stop-opacity="1"/></linearGradient>
<linearGradient id="z74" gradientUnits="userSpaceOnUse" x1="0" y1="1243.5" x2="0" y2="1466.5"><stop offset="0.08" stop-color="#545454" stop-opacity="1"/><stop offset="0.19" stop-color="#545454" stop-opacity="0"/><stop offset="0.83" stop-color="#545454" stop-opacity="0"/><stop offset="0.93" stop-color="#545454" stop-opacity="1"/></linearGradient>
<linearGradient id="z75" gradientUnits="userSpaceOnUse" x1="0" y1="1233" x2="0" y2="1478.5"><stop offset="0.08" stop-color="#545454" stop-opacity="1"/><stop offset="0.17" stop-color="#545454" stop-opacity="0"/><stop offset="0.85" stop-color="#545454" stop-opacity="0"/><stop offset="0.93" stop-color="#545454" stop-opacity="1"/></linearGradient>
<linearGradient id="z76" gradientUnits="userSpaceOnUse" x1="0" y1="1222.5" x2="0" y2="1487"><stop offset="0.07" stop-color="#545454" stop-opacity="1"/><stop offset="0.16" stop-color="#545454" stop-opacity="0"/><stop offset="0.86" stop-color="#545454" stop-opacity="0"/><stop offset="0.94" stop-color="#545454" stop-opacity="1"/></linearGradient>
<linearGradient id="z77" gradientUnits="userSpaceOnUse" x1="0" y1="1215.5" x2="0" y2="1496.5"><stop offset="0.07" stop-color="#545454" stop-opacity="1"/><stop offset="0.15" stop-color="#545454" stop-opacity="0"/><stop offset="0.86" stop-color="#545454" stop-opacity="0"/><stop offset="0.94" stop-color="#545454" stop-opacity="1"/></linearGradient>
<linearGradient id="z78" gradientUnits="userSpaceOnUse" x1="0" y1="1203.7" x2="0" y2="1507.8"><stop offset="0.06" stop-color="#545454" stop-opacity="1"/><stop offset="0.14" stop-color="#545454" stop-opacity="0"/><stop offset="0.88" stop-color="#545454" stop-opacity="0"/><stop offset="0.94" stop-color="#545454" stop-opacity="1"/></linearGradient>
<linearGradient id="z79" gradientUnits="userSpaceOnUse" x1="0" y1="1191.5" x2="0" y2="1520"><stop offset="0.06" stop-color="#545454" stop-opacity="1"/><stop offset="0.13" stop-color="#545454" stop-opacity="0"/><stop offset="0.88" stop-color="#545454" stop-opacity="0"/><stop offset="0.95" stop-color="#545454" stop-opacity="1"/></linearGradient>
<linearGradient id="z80" gradientUnits="userSpaceOnUse" x1="0" y1="1180" x2="0" y2="1530.5"><stop offset="0.05" stop-color="#545454" stop-opacity="1"/><stop offset="0.12" stop-color="#545454" stop-opacity="0"/><stop offset="0.89" stop-color="#545454" stop-opacity="0"/><stop offset="0.95" stop-color="#545454" stop-opacity="1"/></linearGradient>
<linearGradient id="z81" gradientUnits="userSpaceOnUse" x1="0" y1="1170" x2="0" y2="1542.5"><stop offset="0.05" stop-color="#545454" stop-opacity="1"/><stop offset="0.11" stop-color="#545454" stop-opacity="0"/><stop offset="0.9" stop-color="#545454" stop-opacity="0"/><stop offset="0.95" stop-color="#545454" stop-opacity="1"/></linearGradient>
<linearGradient id="z82" gradientUnits="userSpaceOnUse" x1="0" y1="1160" x2="0" y2="1553.5"><stop offset="0.05" stop-color="#545454" stop-opacity="1"/><stop offset="0.11" stop-color="#545454" stop-opacity="0"/><stop offset="0.9" stop-color="#545454" stop-opacity="0"/><stop offset="0.96" stop-color="#545454" stop-opacity="1"/></linearGradient>
<linearGradient id="z83" gradientUnits="userSpaceOnUse" x1="0" y1="1149" x2="0" y2="1564"><stop offset="0.05" stop-color="#545454" stop-opacity="1"/><stop offset="0.1" stop-color="#545454" stop-opacity="0"/><stop offset="0.91" stop-color="#545454" stop-opacity="0"/><stop offset="0.96" stop-color="#545454" stop-opacity="1"/></linearGradient>
<linearGradient id="z84" gradientUnits="userSpaceOnUse" x1="0" y1="1137.5" x2="0" y2="1575.5"><stop offset="0.04" stop-color="#545454" stop-opacity="1"/><stop offset="0.1" stop-color="#545454" stop-opacity="0"/><stop offset="0.91" stop-color="#545454" stop-opacity="0"/><stop offset="0.96" stop-color="#545454" stop-opacity="1"/></linearGradient>
</defs>
<rect x="0" y="65.3" width="1347.6" height="915.1" fill="#000"/>
<rect x="0" y="1101" width="1347.8" height="511.8" fill="#000"/>
<g clip-path="url(#cpa)">
<g fill="none" stroke-width="12" filter="url(#bl5)"><path d="M13.3 236 C13.3 216.67 29.01 201 48.4 201 C67.79 201 83.5 216.67 83.5 236 L83.5 362 C83.5 383.28 75.08 390 48.4 390 C21.72 390 13.3 383.28 13.3 362 L13.3 236Z" stroke="url(#z6)"/><path d="M109.33 235 C109.33 212.91 125.13 195 144.63 195 C164.13 195 179.93 212.91 179.93 235 L179.93 361.5 C179.93 383.9 167.22 396.5 144.63 396.5 C122.04 396.5 109.33 383.9 109.33 361.5 L109.33 235Z" stroke="url(#z7)"/><path d="M205.56 227 C205.56 203.8 221.36 185 240.86 185 C260.36 185 276.16 203.8 276.16 227 L276.16 369 C276.16 391.94 262.75 406 240.86 406 C218.97 406 205.56 391.94 205.56 369 L205.56 227Z" stroke="url(#z8)"/><path d="M301.79 221 C301.79 197.25 317.59 178 337.09 178 C356.59 178 372.39 197.25 372.39 221 L372.39 374 C372.39 397.4 358.27 413 337.09 413 C315.91 413 301.79 397.4 301.79 374 L301.79 221Z" stroke="url(#z9)"/><path d="M398.02 214 C398.02 189.7 413.82 170 433.32 170 C452.82 170 468.62 189.7 468.62 214 L468.62 380 C468.62 404 454.5 420 433.32 420 C412.14 420 398.02 404 398.02 380 L398.02 214Z" stroke="url(#z10)"/></g>
<g fill="none" stroke-width="9" filter="url(#bl2)"><path d="M13.3 238 C13.3 218.67 29.01 203 48.4 203 C67.79 203 83.5 218.67 83.5 238 L83.5 360 C83.5 381.28 75.08 388 48.4 388 C21.72 388 13.3 381.28 13.3 360 L13.3 238Z" stroke="url(#h1)"/><path d="M109.33 237 C109.33 214.91 125.13 197 144.63 197 C164.13 197 179.93 214.91 179.93 237 L179.93 359.5 C179.93 381.9 167.22 394.5 144.63 394.5 C122.04 394.5 109.33 381.9 109.33 359.5 L109.33 237Z" stroke="url(#h2)"/><path d="M205.56 229 C205.56 205.8 221.36 187 240.86 187 C260.36 187 276.16 205.8 276.16 229 L276.16 367 C276.16 389.94 262.75 404 240.86 404 C218.97 404 205.56 389.94 205.56 367 L205.56 229Z" stroke="url(#h3)"/><path d="M301.79 223 C301.79 199.25 317.59 180 337.09 180 C356.59 180 372.39 199.25 372.39 223 L372.39 372 C372.39 395.4 358.27 411 337.09 411 C315.91 411 301.79 395.4 301.79 372 L301.79 223Z" stroke="url(#h4)"/><path d="M398.02 216 C398.02 191.7 413.82 172 433.32 172 C452.82 172 468.62 191.7 468.62 216 L468.62 378 C468.62 402 454.5 418 433.32 418 C412.14 418 398.02 402 398.02 378 L398.02 216Z" stroke="url(#h5)"/></g>
<g fill="none" stroke-width="4.6" filter="url(#bl1)"><path d="M13.3 238 C13.3 218.67 29.01 203 48.4 203 C67.79 203 83.5 218.67 83.5 238 L83.5 360 C83.5 381.28 75.08 388 48.4 388 C21.72 388 13.3 381.28 13.3 360 L13.3 238Z" stroke="url(#g1)"/><path d="M109.33 237 C109.33 214.91 125.13 197 144.63 197 C164.13 197 179.93 214.91 179.93 237 L179.93 359.5 C179.93 381.9 167.22 394.5 144.63 394.5 C122.04 394.5 109.33 381.9 109.33 359.5 L109.33 237Z" stroke="url(#g2)"/><path d="M205.56 229 C205.56 205.8 221.36 187 240.86 187 C260.36 187 276.16 205.8 276.16 229 L276.16 367 C276.16 389.94 262.75 404 240.86 404 C218.97 404 205.56 389.94 205.56 367 L205.56 229Z" stroke="url(#g3)"/><path d="M301.79 223 C301.79 199.25 317.59 180 337.09 180 C356.59 180 372.39 199.25 372.39 223 L372.39 372 C372.39 395.4 358.27 411 337.09 411 C315.91 411 301.79 395.4 301.79 372 L301.79 223Z" stroke="url(#g4)"/><path d="M398.02 216 C398.02 191.7 413.82 172 433.32 172 C452.82 172 468.62 191.7 468.62 216 L468.62 378 C468.62 402 454.5 418 433.32 418 C412.14 418 398.02 402 398.02 378 L398.02 216Z" stroke="url(#g5)"/></g>
<g fill="none" stroke-width="12" filter="url(#bl5)"><path d="M494.25 205 C494.25 180.7 510.05 161 529.55 161 C549.05 161 564.85 180.7 564.85 205 L564.85 389 C564.85 413 550.73 429 529.55 429 C508.37 429 494.25 413 494.25 389 L494.25 205Z" stroke="url(#z16)"/><path d="M590.48 197 C590.48 172.7 606.28 153 625.78 153 C645.28 153 661.08 172.7 661.08 197 L661.08 398.5 C661.08 422.5 646.96 438.5 625.78 438.5 C604.6 438.5 590.48 422.5 590.48 398.5 L590.48 197Z" stroke="url(#z17)"/><path d="M686.71 189 C686.71 164.7 702.51 145 722.01 145 C741.51 145 757.31 164.7 757.31 189 L757.31 404 C757.31 428 743.19 444 722.01 444 C700.83 444 686.71 428 686.71 404 L686.71 189Z" stroke="url(#z18)"/><path d="M782.94 180 C782.94 155.7 798.74 136 818.24 136 C837.74 136 853.54 155.7 853.54 180 L853.54 414 C853.54 438 839.42 454 818.24 454 C797.06 454 782.94 438 782.94 414 L782.94 180Z" stroke="url(#z19)"/><path d="M879.17 172.5 C879.17 148.2 894.97 128.5 914.47 128.5 C933.97 128.5 949.77 148.2 949.77 172.5 L949.77 423 C949.77 447 935.65 463 914.47 463 C893.29 463 879.17 447 879.17 423 L879.17 172.5Z" stroke="url(#z20)"/></g>
<g fill="none" stroke-width="9.5" filter="url(#bl2)"><path d="M494.25 207 C494.25 182.7 510.05 163 529.55 163 C549.05 163 564.85 182.7 564.85 207 L564.85 387 C564.85 411 550.73 427 529.55 427 C508.37 427 494.25 411 494.25 387 L494.25 207Z" stroke="url(#h11)"/><path d="M590.48 199 C590.48 174.7 606.28 155 625.78 155 C645.28 155 661.08 174.7 661.08 199 L661.08 396.5 C661.08 420.5 646.96 436.5 625.78 436.5 C604.6 436.5 590.48 420.5 590.48 396.5 L590.48 199Z" stroke="url(#h12)"/><path d="M686.71 191 C686.71 166.7 702.51 147 722.01 147 C741.51 147 757.31 166.7 757.31 191 L757.31 402 C757.31 426 743.19 442 722.01 442 C700.83 442 686.71 426 686.71 402 L686.71 191Z" stroke="url(#h13)"/><path d="M782.94 182 C782.94 157.7 798.74 138 818.24 138 C837.74 138 853.54 157.7 853.54 182 L853.54 412 C853.54 436 839.42 452 818.24 452 C797.06 452 782.94 436 782.94 412 L782.94 182Z" stroke="url(#h14)"/><path d="M879.17 174.5 C879.17 150.2 894.97 130.5 914.47 130.5 C933.97 130.5 949.77 150.2 949.77 174.5 L949.77 258 L949.76 263.25 L949.69 268.5 L949.55 273.75 L949.36 279 L949.15 284.25 L948.96 289.5 L948.82 294.75 L948.77 300 L948.82 305.25 L948.96 310.5 L949.15 315.75 L949.36 321 L949.55 326.25 L949.69 331.5 L949.76 336.75 L949.77 342 L949.77 421 C949.77 445 935.65 461 914.47 461 C893.29 461 879.17 445 879.17 421 L879.17 342 L879.18 336.75 L879.25 331.5 L879.39 326.25 L879.58 321 L879.79 315.75 L879.98 310.5 L880.12 305.25 L880.17 300 L880.12 294.75 L879.98 289.5 L879.79 284.25 L879.58 279 L879.39 273.75 L879.25 268.5 L879.18 263.25 L879.17 258 L879.17 174.5Z" stroke="url(#h15)"/></g>
<g fill="none" stroke-width="4.3" filter="url(#bl1)"><path d="M494.25 207 C494.25 182.7 510.05 163 529.55 163 C549.05 163 564.85 182.7 564.85 207 L564.85 387 C564.85 411 550.73 427 529.55 427 C508.37 427 494.25 411 494.25 387 L494.25 207Z" stroke="url(#g11)"/><path d="M590.48 199 C590.48 174.7 606.28 155 625.78 155 C645.28 155 661.08 174.7 661.08 199 L661.08 396.5 C661.08 420.5 646.96 436.5 625.78 436.5 C604.6 436.5 590.48 420.5 590.48 396.5 L590.48 199Z" stroke="url(#g12)"/><path d="M686.71 191 C686.71 166.7 702.51 147 722.01 147 C741.51 147 757.31 166.7 757.31 191 L757.31 402 C757.31 426 743.19 442 722.01 442 C700.83 442 686.71 426 686.71 402 L686.71 191Z" stroke="url(#g13)"/><path d="M782.94 182 C782.94 157.7 798.74 138 818.24 138 C837.74 138 853.54 157.7 853.54 182 L853.54 412 C853.54 436 839.42 452 818.24 452 C797.06 452 782.94 436 782.94 412 L782.94 182Z" stroke="url(#g14)"/><path d="M879.17 174.5 C879.17 150.2 894.97 130.5 914.47 130.5 C933.97 130.5 949.77 150.2 949.77 174.5 L949.77 258 L949.76 263.25 L949.69 268.5 L949.55 273.75 L949.36 279 L949.15 284.25 L948.96 289.5 L948.82 294.75 L948.77 300 L948.82 305.25 L948.96 310.5 L949.15 315.75 L949.36 321 L949.55 326.25 L949.69 331.5 L949.76 336.75 L949.77 342 L949.77 421 C949.77 445 935.65 461 914.47 461 C893.29 461 879.17 445 879.17 421 L879.17 342 L879.18 336.75 L879.25 331.5 L879.39 326.25 L879.58 321 L879.79 315.75 L879.98 310.5 L880.12 305.25 L880.17 300 L880.12 294.75 L879.98 289.5 L879.79 284.25 L879.58 279 L879.39 273.75 L879.25 268.5 L879.18 263.25 L879.17 258 L879.17 174.5Z" stroke="url(#g15)"/></g>
<g fill="none" stroke-width="12" filter="url(#bl5)"><path d="M975.4 161.5 C975.4 137.2 991.2 117.5 1010.7 117.5 C1030.2 117.5 1046 137.2 1046 161.5 L1046 432.5 C1046 456.5 1031.88 472.5 1010.7 472.5 C989.52 472.5 975.4 456.5 975.4 432.5 L975.4 161.5Z" stroke="url(#z25)"/><path d="M1071.63 154 C1071.63 129.7 1087.43 110 1106.93 110 C1126.43 110 1142.23 129.7 1142.23 154 L1142.23 441.5 C1142.23 465.5 1128.11 481.5 1106.93 481.5 C1085.75 481.5 1071.63 465.5 1071.63 441.5 L1071.63 154Z" stroke="url(#z26)"/><path d="M1167.86 144.5 C1167.86 120.2 1183.66 100.5 1203.16 100.5 C1222.66 100.5 1238.46 120.2 1238.46 144.5 L1238.46 451 C1238.46 475 1224.34 491 1203.16 491 C1181.98 491 1167.86 475 1167.86 451 L1167.86 144.5Z" stroke="url(#z27)"/><path d="M1264.09 135 C1264.09 110.7 1279.89 91 1299.39 91 C1318.89 91 1334.69 110.7 1334.69 135 L1334.69 460 C1334.69 484 1320.57 500 1299.39 500 C1278.21 500 1264.09 484 1264.09 460 L1264.09 135Z" stroke="url(#z28)"/></g>
<g fill="none" stroke-width="10.5" filter="url(#bl2b)"><path d="M975.4 163.5 C975.4 139.2 991.2 119.5 1010.7 119.5 C1030.2 119.5 1046 139.2 1046 163.5 L1046 258 L1045.97 263.25 L1045.82 268.5 L1045.52 273.75 L1045.11 279 L1044.64 284.25 L1044.21 289.5 L1043.91 294.75 L1043.8 300 L1043.91 305.25 L1044.21 310.5 L1044.64 315.75 L1045.11 321 L1045.52 326.25 L1045.82 331.5 L1045.97 336.75 L1046 342 L1046 430.5 C1046 454.5 1031.88 470.5 1010.7 470.5 C989.52 470.5 975.4 454.5 975.4 430.5 L975.4 342 L975.43 336.75 L975.58 331.5 L975.88 326.25 L976.29 321 L976.76 315.75 L977.19 310.5 L977.49 305.25 L977.6 300 L977.49 294.75 L977.19 289.5 L976.76 284.25 L976.29 279 L975.88 273.75 L975.58 268.5 L975.43 263.25 L975.4 258 L975.4 163.5Z" stroke="url(#h21)"/><path d="M1071.63 156 C1071.63 131.7 1087.43 112 1106.93 112 C1126.43 112 1142.23 131.7 1142.23 156 L1142.23 258 L1142.18 263.25 L1141.97 268.5 L1141.54 273.75 L1140.93 279 L1140.25 284.25 L1139.63 289.5 L1139.19 294.75 L1139.03 300 L1139.19 305.25 L1139.63 310.5 L1140.25 315.75 L1140.93 321 L1141.54 326.25 L1141.97 331.5 L1142.18 336.75 L1142.23 342 L1142.23 439.5 C1142.23 463.5 1128.11 479.5 1106.93 479.5 C1085.75 479.5 1071.63 463.5 1071.63 439.5 L1071.63 342 L1071.68 336.75 L1071.89 331.5 L1072.32 326.25 L1072.93 321 L1073.61 315.75 L1074.23 310.5 L1074.67 305.25 L1074.83 300 L1074.67 294.75 L1074.23 289.5 L1073.61 284.25 L1072.93 279 L1072.32 273.75 L1071.89 268.5 L1071.68 263.25 L1071.63 258 L1071.63 156Z" stroke="url(#h22)"/><path d="M1167.86 146.5 C1167.86 122.2 1183.66 102.5 1203.16 102.5 C1222.66 102.5 1238.46 122.2 1238.46 146.5 L1238.46 258 L1238.41 263.25 L1238.15 268.5 L1237.64 273.75 L1236.92 279 L1236.11 284.25 L1235.37 289.5 L1234.85 294.75 L1234.66 300 L1234.85 305.25 L1235.37 310.5 L1236.11 315.75 L1236.92 321 L1237.64 326.25 L1238.15 331.5 L1238.41 336.75 L1238.46 342 L1238.46 449 C1238.46 473 1224.34 489 1203.16 489 C1181.98 489 1167.86 473 1167.86 449 L1167.86 342 L1167.91 336.75 L1168.17 331.5 L1168.68 326.25 L1169.4 321 L1170.21 315.75 L1170.95 310.5 L1171.47 305.25 L1171.66 300 L1171.47 294.75 L1170.95 289.5 L1170.21 284.25 L1169.4 279 L1168.68 273.75 L1168.17 268.5 L1167.91 263.25 L1167.86 258 L1167.86 146.5Z" stroke="url(#h23)"/><path d="M1264.09 137 C1264.09 112.7 1279.89 93 1299.39 93 C1318.89 93 1334.69 112.7 1334.69 137 L1334.69 258 L1334.63 263.25 L1334.34 268.5 L1333.78 273.75 L1332.98 279 L1332.09 284.25 L1331.27 289.5 L1330.7 294.75 L1330.49 300 L1330.7 305.25 L1331.27 310.5 L1332.09 315.75 L1332.98 321 L1333.78 326.25 L1334.34 331.5 L1334.63 336.75 L1334.69 342 L1334.69 458 C1334.69 482 1320.57 498 1299.39 498 C1278.21 498 1264.09 482 1264.09 458 L1264.09 342 L1264.15 336.75 L1264.44 331.5 L1265 326.25 L1265.8 321 L1266.69 315.75 L1267.51 310.5 L1268.08 305.25 L1268.29 300 L1268.08 294.75 L1267.51 289.5 L1266.69 284.25 L1265.8 279 L1265 273.75 L1264.44 268.5 L1264.15 263.25 L1264.09 258 L1264.09 137Z" stroke="url(#h24)"/></g>
<g fill="none" stroke-width="4" filter="url(#bl1)"><path d="M975.4 163.5 C975.4 139.2 991.2 119.5 1010.7 119.5 C1030.2 119.5 1046 139.2 1046 163.5 L1046 258 L1045.97 263.25 L1045.82 268.5 L1045.52 273.75 L1045.11 279 L1044.64 284.25 L1044.21 289.5 L1043.91 294.75 L1043.8 300 L1043.91 305.25 L1044.21 310.5 L1044.64 315.75 L1045.11 321 L1045.52 326.25 L1045.82 331.5 L1045.97 336.75 L1046 342 L1046 430.5 C1046 454.5 1031.88 470.5 1010.7 470.5 C989.52 470.5 975.4 454.5 975.4 430.5 L975.4 342 L975.43 336.75 L975.58 331.5 L975.88 326.25 L976.29 321 L976.76 315.75 L977.19 310.5 L977.49 305.25 L977.6 300 L977.49 294.75 L977.19 289.5 L976.76 284.25 L976.29 279 L975.88 273.75 L975.58 268.5 L975.43 263.25 L975.4 258 L975.4 163.5Z" stroke="url(#g21)"/><path d="M1071.63 156 C1071.63 131.7 1087.43 112 1106.93 112 C1126.43 112 1142.23 131.7 1142.23 156 L1142.23 258 L1142.18 263.25 L1141.97 268.5 L1141.54 273.75 L1140.93 279 L1140.25 284.25 L1139.63 289.5 L1139.19 294.75 L1139.03 300 L1139.19 305.25 L1139.63 310.5 L1140.25 315.75 L1140.93 321 L1141.54 326.25 L1141.97 331.5 L1142.18 336.75 L1142.23 342 L1142.23 439.5 C1142.23 463.5 1128.11 479.5 1106.93 479.5 C1085.75 479.5 1071.63 463.5 1071.63 439.5 L1071.63 342 L1071.68 336.75 L1071.89 331.5 L1072.32 326.25 L1072.93 321 L1073.61 315.75 L1074.23 310.5 L1074.67 305.25 L1074.83 300 L1074.67 294.75 L1074.23 289.5 L1073.61 284.25 L1072.93 279 L1072.32 273.75 L1071.89 268.5 L1071.68 263.25 L1071.63 258 L1071.63 156Z" stroke="url(#g22)"/><path d="M1167.86 146.5 C1167.86 122.2 1183.66 102.5 1203.16 102.5 C1222.66 102.5 1238.46 122.2 1238.46 146.5 L1238.46 258 L1238.41 263.25 L1238.15 268.5 L1237.64 273.75 L1236.92 279 L1236.11 284.25 L1235.37 289.5 L1234.85 294.75 L1234.66 300 L1234.85 305.25 L1235.37 310.5 L1236.11 315.75 L1236.92 321 L1237.64 326.25 L1238.15 331.5 L1238.41 336.75 L1238.46 342 L1238.46 449 C1238.46 473 1224.34 489 1203.16 489 C1181.98 489 1167.86 473 1167.86 449 L1167.86 342 L1167.91 336.75 L1168.17 331.5 L1168.68 326.25 L1169.4 321 L1170.21 315.75 L1170.95 310.5 L1171.47 305.25 L1171.66 300 L1171.47 294.75 L1170.95 289.5 L1170.21 284.25 L1169.4 279 L1168.68 273.75 L1168.17 268.5 L1167.91 263.25 L1167.86 258 L1167.86 146.5Z" stroke="url(#g23)"/><path d="M1264.09 137 C1264.09 112.7 1279.89 93 1299.39 93 C1318.89 93 1334.69 112.7 1334.69 137 L1334.69 258 L1334.63 263.25 L1334.34 268.5 L1333.78 273.75 L1332.98 279 L1332.09 284.25 L1331.27 289.5 L1330.7 294.75 L1330.49 300 L1330.7 305.25 L1331.27 310.5 L1332.09 315.75 L1332.98 321 L1333.78 326.25 L1334.34 331.5 L1334.63 336.75 L1334.69 342 L1334.69 458 C1334.69 482 1320.57 498 1299.39 498 C1278.21 498 1264.09 482 1264.09 458 L1264.09 342 L1264.15 336.75 L1264.44 331.5 L1265 326.25 L1265.8 321 L1266.69 315.75 L1267.51 310.5 L1268.08 305.25 L1268.29 300 L1268.08 294.75 L1267.51 289.5 L1266.69 284.25 L1265.8 279 L1265 273.75 L1264.44 268.5 L1264.15 263.25 L1264.09 258 L1264.09 137Z" stroke="url(#g24)"/></g>
<g fill="none" stroke-width="12" filter="url(#bl5)"><path d="M13.3 694 C13.3 674.67 29.01 659 48.4 659 C67.79 659 83.5 674.67 83.5 694 L83.5 820 C83.5 841.28 75.08 848 48.4 848 C21.72 848 13.3 841.28 13.3 820 L13.3 694Z" stroke="url(#z34)"/><path d="M109.33 693 C109.33 670.91 125.13 653 144.63 653 C164.13 653 179.93 670.91 179.93 693 L179.93 819.5 C179.93 841.9 167.22 854.5 144.63 854.5 C122.04 854.5 109.33 841.9 109.33 819.5 L109.33 693Z" stroke="url(#z35)"/><path d="M205.56 685 C205.56 661.8 221.36 643 240.86 643 C260.36 643 276.16 661.8 276.16 685 L276.16 827 C276.16 849.94 262.75 864 240.86 864 C218.97 864 205.56 849.94 205.56 827 L205.56 685Z" stroke="url(#z36)"/><path d="M301.79 679 C301.79 655.25 317.59 636 337.09 636 C356.59 636 372.39 655.25 372.39 679 L372.39 832 C372.39 855.4 358.27 871 337.09 871 C315.91 871 301.79 855.4 301.79 832 L301.79 679Z" stroke="url(#z37)"/><path d="M398.02 672 C398.02 647.7 413.82 628 433.32 628 C452.82 628 468.62 647.7 468.62 672 L468.62 838 C468.62 862 454.5 878 433.32 878 C412.14 878 398.02 862 398.02 838 L398.02 672Z" stroke="url(#z38)"/></g>
<g fill="none" stroke-width="9" filter="url(#bl2)"><path d="M13.3 696 C13.3 676.67 29.01 661 48.4 661 C67.79 661 83.5 676.67 83.5 696 L83.5 818 C83.5 839.28 75.08 846 48.4 846 C21.72 846 13.3 839.28 13.3 818 L13.3 696Z" stroke="url(#h29)"/><path d="M109.33 695 C109.33 672.91 125.13 655 144.63 655 C164.13 655 179.93 672.91 179.93 695 L179.93 817.5 C179.93 839.9 167.22 852.5 144.63 852.5 C122.04 852.5 109.33 839.9 109.33 817.5 L109.33 695Z" stroke="url(#h30)"/><path d="M205.56 687 C205.56 663.8 221.36 645 240.86 645 C260.36 645 276.16 663.8 276.16 687 L276.16 825 C276.16 847.94 262.75 862 240.86 862 C218.97 862 205.56 847.94 205.56 825 L205.56 687Z" stroke="url(#h31)"/><path d="M301.79 681 C301.79 657.25 317.59 638 337.09 638 C356.59 638 372.39 657.25 372.39 681 L372.39 830 C372.39 853.4 358.27 869 337.09 869 C315.91 869 301.79 853.4 301.79 830 L301.79 681Z" stroke="url(#h32)"/><path d="M398.02 674 C398.02 649.7 413.82 630 433.32 630 C452.82 630 468.62 649.7 468.62 674 L468.62 836 C468.62 860 454.5 876 433.32 876 C412.14 876 398.02 860 398.02 836 L398.02 674Z" stroke="url(#h33)"/></g>
<g fill="none" stroke-width="4.6" filter="url(#bl1)"><path d="M13.3 696 C13.3 676.67 29.01 661 48.4 661 C67.79 661 83.5 676.67 83.5 696 L83.5 818 C83.5 839.28 75.08 846 48.4 846 C21.72 846 13.3 839.28 13.3 818 L13.3 696Z" stroke="url(#g29)"/><path d="M109.33 695 C109.33 672.91 125.13 655 144.63 655 C164.13 655 179.93 672.91 179.93 695 L179.93 817.5 C179.93 839.9 167.22 852.5 144.63 852.5 C122.04 852.5 109.33 839.9 109.33 817.5 L109.33 695Z" stroke="url(#g30)"/><path d="M205.56 687 C205.56 663.8 221.36 645 240.86 645 C260.36 645 276.16 663.8 276.16 687 L276.16 825 C276.16 847.94 262.75 862 240.86 862 C218.97 862 205.56 847.94 205.56 825 L205.56 687Z" stroke="url(#g31)"/><path d="M301.79 681 C301.79 657.25 317.59 638 337.09 638 C356.59 638 372.39 657.25 372.39 681 L372.39 830 C372.39 853.4 358.27 869 337.09 869 C315.91 869 301.79 853.4 301.79 830 L301.79 681Z" stroke="url(#g32)"/><path d="M398.02 674 C398.02 649.7 413.82 630 433.32 630 C452.82 630 468.62 649.7 468.62 674 L468.62 836 C468.62 860 454.5 876 433.32 876 C412.14 876 398.02 860 398.02 836 L398.02 674Z" stroke="url(#g33)"/></g>
<g fill="none" stroke-width="12" filter="url(#bl5)"><path d="M494.25 663 C494.25 638.7 510.05 619 529.55 619 C549.05 619 564.85 638.7 564.85 663 L564.85 847 C564.85 871 550.73 887 529.55 887 C508.37 887 494.25 871 494.25 847 L494.25 663Z" stroke="url(#z44)"/><path d="M590.48 655 C590.48 630.7 606.28 611 625.78 611 C645.28 611 661.08 630.7 661.08 655 L661.08 856.5 C661.08 880.5 646.96 896.5 625.78 896.5 C604.6 896.5 590.48 880.5 590.48 856.5 L590.48 655Z" stroke="url(#z45)"/><path d="M686.71 647 C686.71 622.7 702.51 603 722.01 603 C741.51 603 757.31 622.7 757.31 647 L757.31 862 C757.31 886 743.19 902 722.01 902 C700.83 902 686.71 886 686.71 862 L686.71 647Z" stroke="url(#z46)"/><path d="M782.94 638 C782.94 613.7 798.74 594 818.24 594 C837.74 594 853.54 613.7 853.54 638 L853.54 872 C853.54 896 839.42 912 818.24 912 C797.06 912 782.94 896 782.94 872 L782.94 638Z" stroke="url(#z47)"/><path d="M879.17 630.5 C879.17 606.2 894.97 586.5 914.47 586.5 C933.97 586.5 949.77 606.2 949.77 630.5 L949.77 881 C949.77 905 935.65 921 914.47 921 C893.29 921 879.17 905 879.17 881 L879.17 630.5Z" stroke="url(#z48)"/></g>
<g fill="none" stroke-width="9.5" filter="url(#bl2)"><path d="M494.25 665 C494.25 640.7 510.05 621 529.55 621 C549.05 621 564.85 640.7 564.85 665 L564.85 845 C564.85 869 550.73 885 529.55 885 C508.37 885 494.25 869 494.25 845 L494.25 665Z" stroke="url(#h39)"/><path d="M590.48 657 C590.48 632.7 606.28 613 625.78 613 C645.28 613 661.08 632.7 661.08 657 L661.08 854.5 C661.08 878.5 646.96 894.5 625.78 894.5 C604.6 894.5 590.48 878.5 590.48 854.5 L590.48 657Z" stroke="url(#h40)"/><path d="M686.71 649 C686.71 624.7 702.51 605 722.01 605 C741.51 605 757.31 624.7 757.31 649 L757.31 860 C757.31 884 743.19 900 722.01 900 C700.83 900 686.71 884 686.71 860 L686.71 649Z" stroke="url(#h41)"/><path d="M782.94 640 C782.94 615.7 798.74 596 818.24 596 C837.74 596 853.54 615.7 853.54 640 L853.54 870 C853.54 894 839.42 910 818.24 910 C797.06 910 782.94 894 782.94 870 L782.94 640Z" stroke="url(#h42)"/><path d="M879.17 632.5 C879.17 608.2 894.97 588.5 914.47 588.5 C933.97 588.5 949.77 608.2 949.77 632.5 L949.77 716 L949.76 721.25 L949.69 726.5 L949.55 731.75 L949.36 737 L949.15 742.25 L948.96 747.5 L948.82 752.75 L948.77 758 L948.82 763.25 L948.96 768.5 L949.15 773.75 L949.36 779 L949.55 784.25 L949.69 789.5 L949.76 794.75 L949.77 800 L949.77 879 C949.77 903 935.65 919 914.47 919 C893.29 919 879.17 903 879.17 879 L879.17 800 L879.18 794.75 L879.25 789.5 L879.39 784.25 L879.58 779 L879.79 773.75 L879.98 768.5 L880.12 763.25 L880.17 758 L880.12 752.75 L879.98 747.5 L879.79 742.25 L879.58 737 L879.39 731.75 L879.25 726.5 L879.18 721.25 L879.17 716 L879.17 632.5Z" stroke="url(#h43)"/></g>
<g fill="none" stroke-width="4.3" filter="url(#bl1)"><path d="M494.25 665 C494.25 640.7 510.05 621 529.55 621 C549.05 621 564.85 640.7 564.85 665 L564.85 845 C564.85 869 550.73 885 529.55 885 C508.37 885 494.25 869 494.25 845 L494.25 665Z" stroke="url(#g39)"/><path d="M590.48 657 C590.48 632.7 606.28 613 625.78 613 C645.28 613 661.08 632.7 661.08 657 L661.08 854.5 C661.08 878.5 646.96 894.5 625.78 894.5 C604.6 894.5 590.48 878.5 590.48 854.5 L590.48 657Z" stroke="url(#g40)"/><path d="M686.71 649 C686.71 624.7 702.51 605 722.01 605 C741.51 605 757.31 624.7 757.31 649 L757.31 860 C757.31 884 743.19 900 722.01 900 C700.83 900 686.71 884 686.71 860 L686.71 649Z" stroke="url(#g41)"/><path d="M782.94 640 C782.94 615.7 798.74 596 818.24 596 C837.74 596 853.54 615.7 853.54 640 L853.54 870 C853.54 894 839.42 910 818.24 910 C797.06 910 782.94 894 782.94 870 L782.94 640Z" stroke="url(#g42)"/><path d="M879.17 632.5 C879.17 608.2 894.97 588.5 914.47 588.5 C933.97 588.5 949.77 608.2 949.77 632.5 L949.77 716 L949.76 721.25 L949.69 726.5 L949.55 731.75 L949.36 737 L949.15 742.25 L948.96 747.5 L948.82 752.75 L948.77 758 L948.82 763.25 L948.96 768.5 L949.15 773.75 L949.36 779 L949.55 784.25 L949.69 789.5 L949.76 794.75 L949.77 800 L949.77 879 C949.77 903 935.65 919 914.47 919 C893.29 919 879.17 903 879.17 879 L879.17 800 L879.18 794.75 L879.25 789.5 L879.39 784.25 L879.58 779 L879.79 773.75 L879.98 768.5 L880.12 763.25 L880.17 758 L880.12 752.75 L879.98 747.5 L879.79 742.25 L879.58 737 L879.39 731.75 L879.25 726.5 L879.18 721.25 L879.17 716 L879.17 632.5Z" stroke="url(#g43)"/></g>
<g fill="none" stroke-width="12" filter="url(#bl5)"><path d="M975.4 619.5 C975.4 595.2 991.2 575.5 1010.7 575.5 C1030.2 575.5 1046 595.2 1046 619.5 L1046 890.5 C1046 914.5 1031.88 930.5 1010.7 930.5 C989.52 930.5 975.4 914.5 975.4 890.5 L975.4 619.5Z" stroke="url(#z53)"/><path d="M1071.63 612 C1071.63 587.7 1087.43 568 1106.93 568 C1126.43 568 1142.23 587.7 1142.23 612 L1142.23 899.5 C1142.23 923.5 1128.11 939.5 1106.93 939.5 C1085.75 939.5 1071.63 923.5 1071.63 899.5 L1071.63 612Z" stroke="url(#z54)"/><path d="M1167.86 602.5 C1167.86 578.2 1183.66 558.5 1203.16 558.5 C1222.66 558.5 1238.46 578.2 1238.46 602.5 L1238.46 909 C1238.46 933 1224.34 949 1203.16 949 C1181.98 949 1167.86 933 1167.86 909 L1167.86 602.5Z" stroke="url(#z55)"/><path d="M1264.09 593 C1264.09 568.7 1279.89 549 1299.39 549 C1318.89 549 1334.69 568.7 1334.69 593 L1334.69 918 C1334.69 942 1320.57 958 1299.39 958 C1278.21 958 1264.09 942 1264.09 918 L1264.09 593Z" stroke="url(#z56)"/></g>
<g fill="none" stroke-width="10.5" filter="url(#bl2b)"><path d="M975.4 621.5 C975.4 597.2 991.2 577.5 1010.7 577.5 C1030.2 577.5 1046 597.2 1046 621.5 L1046 716 L1045.97 721.25 L1045.82 726.5 L1045.52 731.75 L1045.11 737 L1044.64 742.25 L1044.21 747.5 L1043.91 752.75 L1043.8 758 L1043.91 763.25 L1044.21 768.5 L1044.64 773.75 L1045.11 779 L1045.52 784.25 L1045.82 789.5 L1045.97 794.75 L1046 800 L1046 888.5 C1046 912.5 1031.88 928.5 1010.7 928.5 C989.52 928.5 975.4 912.5 975.4 888.5 L975.4 800 L975.43 794.75 L975.58 789.5 L975.88 784.25 L976.29 779 L976.76 773.75 L977.19 768.5 L977.49 763.25 L977.6 758 L977.49 752.75 L977.19 747.5 L976.76 742.25 L976.29 737 L975.88 731.75 L975.58 726.5 L975.43 721.25 L975.4 716 L975.4 621.5Z" stroke="url(#h49)"/><path d="M1071.63 614 C1071.63 589.7 1087.43 570 1106.93 570 C1126.43 570 1142.23 589.7 1142.23 614 L1142.23 716 L1142.18 721.25 L1141.97 726.5 L1141.54 731.75 L1140.93 737 L1140.25 742.25 L1139.63 747.5 L1139.19 752.75 L1139.03 758 L1139.19 763.25 L1139.63 768.5 L1140.25 773.75 L1140.93 779 L1141.54 784.25 L1141.97 789.5 L1142.18 794.75 L1142.23 800 L1142.23 897.5 C1142.23 921.5 1128.11 937.5 1106.93 937.5 C1085.75 937.5 1071.63 921.5 1071.63 897.5 L1071.63 800 L1071.68 794.75 L1071.89 789.5 L1072.32 784.25 L1072.93 779 L1073.61 773.75 L1074.23 768.5 L1074.67 763.25 L1074.83 758 L1074.67 752.75 L1074.23 747.5 L1073.61 742.25 L1072.93 737 L1072.32 731.75 L1071.89 726.5 L1071.68 721.25 L1071.63 716 L1071.63 614Z" stroke="url(#h50)"/><path d="M1167.86 604.5 C1167.86 580.2 1183.66 560.5 1203.16 560.5 C1222.66 560.5 1238.46 580.2 1238.46 604.5 L1238.46 716 L1238.41 721.25 L1238.15 726.5 L1237.64 731.75 L1236.92 737 L1236.11 742.25 L1235.37 747.5 L1234.85 752.75 L1234.66 758 L1234.85 763.25 L1235.37 768.5 L1236.11 773.75 L1236.92 779 L1237.64 784.25 L1238.15 789.5 L1238.41 794.75 L1238.46 800 L1238.46 907 C1238.46 931 1224.34 947 1203.16 947 C1181.98 947 1167.86 931 1167.86 907 L1167.86 800 L1167.91 794.75 L1168.17 789.5 L1168.68 784.25 L1169.4 779 L1170.21 773.75 L1170.95 768.5 L1171.47 763.25 L1171.66 758 L1171.47 752.75 L1170.95 747.5 L1170.21 742.25 L1169.4 737 L1168.68 731.75 L1168.17 726.5 L1167.91 721.25 L1167.86 716 L1167.86 604.5Z" stroke="url(#h51)"/><path d="M1264.09 595 C1264.09 570.7 1279.89 551 1299.39 551 C1318.89 551 1334.69 570.7 1334.69 595 L1334.69 716 L1334.63 721.25 L1334.34 726.5 L1333.78 731.75 L1332.98 737 L1332.09 742.25 L1331.27 747.5 L1330.7 752.75 L1330.49 758 L1330.7 763.25 L1331.27 768.5 L1332.09 773.75 L1332.98 779 L1333.78 784.25 L1334.34 789.5 L1334.63 794.75 L1334.69 800 L1334.69 916 C1334.69 940 1320.57 956 1299.39 956 C1278.21 956 1264.09 940 1264.09 916 L1264.09 800 L1264.15 794.75 L1264.44 789.5 L1265 784.25 L1265.8 779 L1266.69 773.75 L1267.51 768.5 L1268.08 763.25 L1268.29 758 L1268.08 752.75 L1267.51 747.5 L1266.69 742.25 L1265.8 737 L1265 731.75 L1264.44 726.5 L1264.15 721.25 L1264.09 716 L1264.09 595Z" stroke="url(#h52)"/></g>
<g fill="none" stroke-width="4" filter="url(#bl1)"><path d="M975.4 621.5 C975.4 597.2 991.2 577.5 1010.7 577.5 C1030.2 577.5 1046 597.2 1046 621.5 L1046 716 L1045.97 721.25 L1045.82 726.5 L1045.52 731.75 L1045.11 737 L1044.64 742.25 L1044.21 747.5 L1043.91 752.75 L1043.8 758 L1043.91 763.25 L1044.21 768.5 L1044.64 773.75 L1045.11 779 L1045.52 784.25 L1045.82 789.5 L1045.97 794.75 L1046 800 L1046 888.5 C1046 912.5 1031.88 928.5 1010.7 928.5 C989.52 928.5 975.4 912.5 975.4 888.5 L975.4 800 L975.43 794.75 L975.58 789.5 L975.88 784.25 L976.29 779 L976.76 773.75 L977.19 768.5 L977.49 763.25 L977.6 758 L977.49 752.75 L977.19 747.5 L976.76 742.25 L976.29 737 L975.88 731.75 L975.58 726.5 L975.43 721.25 L975.4 716 L975.4 621.5Z" stroke="url(#g49)"/><path d="M1071.63 614 C1071.63 589.7 1087.43 570 1106.93 570 C1126.43 570 1142.23 589.7 1142.23 614 L1142.23 716 L1142.18 721.25 L1141.97 726.5 L1141.54 731.75 L1140.93 737 L1140.25 742.25 L1139.63 747.5 L1139.19 752.75 L1139.03 758 L1139.19 763.25 L1139.63 768.5 L1140.25 773.75 L1140.93 779 L1141.54 784.25 L1141.97 789.5 L1142.18 794.75 L1142.23 800 L1142.23 897.5 C1142.23 921.5 1128.11 937.5 1106.93 937.5 C1085.75 937.5 1071.63 921.5 1071.63 897.5 L1071.63 800 L1071.68 794.75 L1071.89 789.5 L1072.32 784.25 L1072.93 779 L1073.61 773.75 L1074.23 768.5 L1074.67 763.25 L1074.83 758 L1074.67 752.75 L1074.23 747.5 L1073.61 742.25 L1072.93 737 L1072.32 731.75 L1071.89 726.5 L1071.68 721.25 L1071.63 716 L1071.63 614Z" stroke="url(#g50)"/><path d="M1167.86 604.5 C1167.86 580.2 1183.66 560.5 1203.16 560.5 C1222.66 560.5 1238.46 580.2 1238.46 604.5 L1238.46 716 L1238.41 721.25 L1238.15 726.5 L1237.64 731.75 L1236.92 737 L1236.11 742.25 L1235.37 747.5 L1234.85 752.75 L1234.66 758 L1234.85 763.25 L1235.37 768.5 L1236.11 773.75 L1236.92 779 L1237.64 784.25 L1238.15 789.5 L1238.41 794.75 L1238.46 800 L1238.46 907 C1238.46 931 1224.34 947 1203.16 947 C1181.98 947 1167.86 931 1167.86 907 L1167.86 800 L1167.91 794.75 L1168.17 789.5 L1168.68 784.25 L1169.4 779 L1170.21 773.75 L1170.95 768.5 L1171.47 763.25 L1171.66 758 L1171.47 752.75 L1170.95 747.5 L1170.21 742.25 L1169.4 737 L1168.68 731.75 L1168.17 726.5 L1167.91 721.25 L1167.86 716 L1167.86 604.5Z" stroke="url(#g51)"/><path d="M1264.09 595 C1264.09 570.7 1279.89 551 1299.39 551 C1318.89 551 1334.69 570.7 1334.69 595 L1334.69 716 L1334.63 721.25 L1334.34 726.5 L1333.78 731.75 L1332.98 737 L1332.09 742.25 L1331.27 747.5 L1330.7 752.75 L1330.49 758 L1330.7 763.25 L1331.27 768.5 L1332.09 773.75 L1332.98 779 L1333.78 784.25 L1334.34 789.5 L1334.63 794.75 L1334.69 800 L1334.69 916 C1334.69 940 1320.57 956 1299.39 956 C1278.21 956 1264.09 940 1264.09 916 L1264.09 800 L1264.15 794.75 L1264.44 789.5 L1265 784.25 L1265.8 779 L1266.69 773.75 L1267.51 768.5 L1268.08 763.25 L1268.29 758 L1268.08 752.75 L1267.51 747.5 L1266.69 742.25 L1265.8 737 L1265 731.75 L1264.44 726.5 L1264.15 721.25 L1264.09 716 L1264.09 595Z" stroke="url(#g52)"/></g>
</g>
<g clip-path="url(#cpb)">
<g fill="none" stroke-width="18" filter="url(#bl5)"><path d="M21.35 1304.5 C21.35 1284.62 36.46 1268.5 55.1 1268.5 C73.74 1268.5 88.85 1284.62 88.85 1304.5 L88.85 1414.5 C88.85 1435.78 80.75 1442.5 55.1 1442.5 C29.45 1442.5 21.35 1435.78 21.35 1414.5 L21.35 1304.5Z" stroke="url(#z71)"/><path d="M115.95 1301 C115.95 1278.91 131.73 1261 151.2 1261 C170.67 1261 186.45 1278.91 186.45 1301 L186.45 1417 C186.45 1439.44 175.17 1450 151.2 1450 C127.23 1450 115.95 1439.44 115.95 1417 L115.95 1301Z" stroke="url(#z72)"/><path d="M212.05 1294.5 C212.05 1271.3 227.83 1252.5 247.3 1252.5 C266.77 1252.5 282.55 1271.3 282.55 1294.5 L282.55 1422.5 C282.55 1444.9 269.86 1457.5 247.3 1457.5 C224.74 1457.5 212.05 1444.9 212.05 1422.5 L212.05 1294.5Z" stroke="url(#z73)"/><path d="M308.15 1283.5 C308.15 1260.3 323.93 1241.5 343.4 1241.5 C362.87 1241.5 378.65 1260.3 378.65 1283.5 L378.65 1431.5 C378.65 1453.7 364.55 1468.5 343.4 1468.5 C322.25 1468.5 308.15 1453.7 308.15 1431.5 L308.15 1283.5Z" stroke="url(#z74)"/><path d="M404.25 1273 C404.25 1249.8 420.03 1231 439.5 1231 C458.97 1231 474.75 1249.8 474.75 1273 L474.75 1442.5 C474.75 1465.3 460.65 1480.5 439.5 1480.5 C418.35 1480.5 404.25 1465.3 404.25 1442.5 L404.25 1273Z" stroke="url(#z75)"/><path d="M500.35 1262.5 C500.35 1239.3 516.13 1220.5 535.6 1220.5 C555.07 1220.5 570.85 1239.3 570.85 1262.5 L570.85 1451 C570.85 1473.8 556.75 1489 535.6 1489 C514.45 1489 500.35 1473.8 500.35 1451 L500.35 1262.5Z" stroke="url(#z76)"/><path d="M596.45 1255.5 C596.45 1232.3 612.23 1213.5 631.7 1213.5 C651.17 1213.5 666.95 1232.3 666.95 1255.5 L666.95 1460.5 C666.95 1483.3 652.85 1498.5 631.7 1498.5 C610.55 1498.5 596.45 1483.3 596.45 1460.5 L596.45 1255.5Z" stroke="url(#z77)"/><path d="M692.55 1243.7 C692.55 1220.5 708.33 1201.7 727.8 1201.7 C747.27 1201.7 763.05 1220.5 763.05 1243.7 L763.05 1471.8 C763.05 1494.6 748.95 1509.8 727.8 1509.8 C706.65 1509.8 692.55 1494.6 692.55 1471.8 L692.55 1243.7Z" stroke="url(#z78)"/><path d="M788.65 1231.5 C788.65 1208.3 804.43 1189.5 823.9 1189.5 C843.37 1189.5 859.15 1208.3 859.15 1231.5 L859.15 1484 C859.15 1506.8 845.05 1522 823.9 1522 C802.75 1522 788.65 1506.8 788.65 1484 L788.65 1231.5Z" stroke="url(#z79)"/><path d="M884.75 1220 C884.75 1196.8 900.53 1178 920 1178 C939.47 1178 955.25 1196.8 955.25 1220 L955.25 1494.5 C955.25 1517.3 941.15 1532.5 920 1532.5 C898.85 1532.5 884.75 1517.3 884.75 1494.5 L884.75 1220Z" stroke="url(#z80)"/><path d="M980.85 1210 C980.85 1186.8 996.63 1168 1016.1 1168 C1035.57 1168 1051.35 1186.8 1051.35 1210 L1051.35 1506.5 C1051.35 1529.3 1037.25 1544.5 1016.1 1544.5 C994.95 1544.5 980.85 1529.3 980.85 1506.5 L980.85 1210Z" stroke="url(#z81)"/><path d="M1076.95 1200 C1076.95 1176.8 1092.73 1158 1112.2 1158 C1131.67 1158 1147.45 1176.8 1147.45 1200 L1147.45 1517.5 C1147.45 1540.3 1133.35 1555.5 1112.2 1555.5 C1091.05 1555.5 1076.95 1540.3 1076.95 1517.5 L1076.95 1200Z" stroke="url(#z82)"/><path d="M1173.05 1189 C1173.05 1165.8 1188.83 1147 1208.3 1147 C1227.77 1147 1243.55 1165.8 1243.55 1189 L1243.55 1528 C1243.55 1550.8 1229.45 1566 1208.3 1566 C1187.15 1566 1173.05 1550.8 1173.05 1528 L1173.05 1189Z" stroke="url(#z83)"/><path d="M1269.15 1177.5 C1269.15 1154.3 1284.93 1135.5 1304.4 1135.5 C1323.87 1135.5 1339.65 1154.3 1339.65 1177.5 L1339.65 1539.5 C1339.65 1562.3 1325.55 1577.5 1304.4 1577.5 C1283.25 1577.5 1269.15 1562.3 1269.15 1539.5 L1269.15 1177.5Z" stroke="url(#z84)"/></g>
<g fill="none" stroke-width="12" filter="url(#bl3)"><path d="M21.35 1306.5 C21.35 1286.62 36.46 1270.5 55.1 1270.5 C73.74 1270.5 88.85 1286.62 88.85 1306.5 L88.85 1412.5 C88.85 1433.78 80.75 1440.5 55.1 1440.5 C29.45 1440.5 21.35 1433.78 21.35 1412.5 L21.35 1306.5Z" stroke="url(#h57)"/><path d="M115.95 1303 C115.95 1280.91 131.73 1263 151.2 1263 C170.67 1263 186.45 1280.91 186.45 1303 L186.45 1415 C186.45 1437.44 175.17 1448 151.2 1448 C127.23 1448 115.95 1437.44 115.95 1415 L115.95 1303Z" stroke="url(#h58)"/><path d="M212.05 1296.5 C212.05 1273.3 227.83 1254.5 247.3 1254.5 C266.77 1254.5 282.55 1273.3 282.55 1296.5 L282.55 1420.5 C282.55 1442.9 269.86 1455.5 247.3 1455.5 C224.74 1455.5 212.05 1442.9 212.05 1420.5 L212.05 1296.5Z" stroke="url(#h59)"/><path d="M308.15 1285.5 C308.15 1262.3 323.93 1243.5 343.4 1243.5 C362.87 1243.5 378.65 1262.3 378.65 1285.5 L378.65 1429.5 C378.65 1451.7 364.55 1466.5 343.4 1466.5 C322.25 1466.5 308.15 1451.7 308.15 1429.5 L308.15 1285.5Z" stroke="url(#h60)"/><path d="M404.25 1275 C404.25 1251.8 420.03 1233 439.5 1233 C458.97 1233 474.75 1251.8 474.75 1275 L474.75 1440.5 C474.75 1463.3 460.65 1478.5 439.5 1478.5 C418.35 1478.5 404.25 1463.3 404.25 1440.5 L404.25 1275Z" stroke="url(#h61)"/><path d="M500.35 1264.5 C500.35 1241.3 516.13 1222.5 535.6 1222.5 C555.07 1222.5 570.85 1241.3 570.85 1264.5 L570.85 1449 C570.85 1471.8 556.75 1487 535.6 1487 C514.45 1487 500.35 1471.8 500.35 1449 L500.35 1264.5Z" stroke="url(#h62)"/><path d="M596.45 1257.5 C596.45 1234.3 612.23 1215.5 631.7 1215.5 C651.17 1215.5 666.95 1234.3 666.95 1257.5 L666.95 1458.5 C666.95 1481.3 652.85 1496.5 631.7 1496.5 C610.55 1496.5 596.45 1481.3 596.45 1458.5 L596.45 1257.5Z" stroke="url(#h63)"/><path d="M692.55 1245.7 C692.55 1222.5 708.33 1203.7 727.8 1203.7 C747.27 1203.7 763.05 1222.5 763.05 1245.7 L763.05 1469.8 C763.05 1492.6 748.95 1507.8 727.8 1507.8 C706.65 1507.8 692.55 1492.6 692.55 1469.8 L692.55 1245.7Z" stroke="url(#h64)"/><path d="M788.65 1233.5 C788.65 1210.3 804.43 1191.5 823.9 1191.5 C843.37 1191.5 859.15 1210.3 859.15 1233.5 L859.15 1303 L859.14 1309.5 L859.07 1316 L858.93 1322.5 L858.74 1329 L858.53 1335.5 L858.34 1342 L858.2 1348.5 L858.15 1355 L858.2 1361.5 L858.34 1368 L858.53 1374.5 L858.74 1381 L858.93 1387.5 L859.07 1394 L859.14 1400.5 L859.15 1407 L859.15 1482 C859.15 1504.8 845.05 1520 823.9 1520 C802.75 1520 788.65 1504.8 788.65 1482 L788.65 1407 L788.66 1400.5 L788.73 1394 L788.87 1387.5 L789.06 1381 L789.27 1374.5 L789.46 1368 L789.6 1361.5 L789.65 1355 L789.6 1348.5 L789.46 1342 L789.27 1335.5 L789.06 1329 L788.87 1322.5 L788.73 1316 L788.66 1309.5 L788.65 1303 L788.65 1233.5Z" stroke="url(#h65)"/><path d="M884.75 1222 C884.75 1198.8 900.53 1180 920 1180 C939.47 1180 955.25 1198.8 955.25 1222 L955.25 1303 L955.22 1309.5 L955.09 1316 L954.82 1322.5 L954.44 1329 L954.01 1335.5 L953.62 1342 L953.35 1348.5 L953.25 1355 L953.35 1361.5 L953.62 1368 L954.01 1374.5 L954.44 1381 L954.82 1387.5 L955.09 1394 L955.22 1400.5 L955.25 1407 L955.25 1492.5 C955.25 1515.3 941.15 1530.5 920 1530.5 C898.85 1530.5 884.75 1515.3 884.75 1492.5 L884.75 1407 L884.78 1400.5 L884.91 1394 L885.18 1387.5 L885.56 1381 L885.99 1374.5 L886.38 1368 L886.65 1361.5 L886.75 1355 L886.65 1348.5 L886.38 1342 L885.99 1335.5 L885.56 1329 L885.18 1322.5 L884.91 1316 L884.78 1309.5 L884.75 1303 L884.75 1222Z" stroke="url(#h66)"/><path d="M980.85 1212 C980.85 1188.8 996.63 1170 1016.1 1170 C1035.57 1170 1051.35 1188.8 1051.35 1212 L1051.35 1303 L1051.3 1309.5 L1051.06 1316 L1050.59 1322.5 L1049.93 1329 L1049.18 1335.5 L1048.5 1342 L1048.02 1348.5 L1047.85 1355 L1048.02 1361.5 L1048.5 1368 L1049.18 1374.5 L1049.93 1381 L1050.59 1387.5 L1051.06 1394 L1051.3 1400.5 L1051.35 1407 L1051.35 1504.5 C1051.35 1527.3 1037.25 1542.5 1016.1 1542.5 C994.95 1542.5 980.85 1527.3 980.85 1504.5 L980.85 1407 L980.9 1400.5 L981.14 1394 L981.61 1387.5 L982.27 1381 L983.02 1374.5 L983.7 1368 L984.18 1361.5 L984.35 1355 L984.18 1348.5 L983.7 1342 L983.02 1335.5 L982.27 1329 L981.61 1322.5 L981.14 1316 L980.9 1309.5 L980.85 1303 L980.85 1212Z" stroke="url(#h67)"/><path d="M1076.95 1202 C1076.95 1178.8 1092.73 1160 1112.2 1160 C1131.67 1160 1147.45 1178.8 1147.45 1202 L1147.45 1303 L1147.38 1309.5 L1147.04 1316 L1146.37 1322.5 L1145.42 1329 L1144.36 1335.5 L1143.38 1342 L1142.7 1348.5 L1142.45 1355 L1142.7 1361.5 L1143.38 1368 L1144.36 1374.5 L1145.42 1381 L1146.37 1387.5 L1147.04 1394 L1147.38 1400.5 L1147.45 1407 L1147.45 1515.5 C1147.45 1538.3 1133.35 1553.5 1112.2 1553.5 C1091.05 1553.5 1076.95 1538.3 1076.95 1515.5 L1076.95 1407 L1077.02 1400.5 L1077.36 1394 L1078.03 1387.5 L1078.98 1381 L1080.04 1374.5 L1081.02 1368 L1081.7 1361.5 L1081.95 1355 L1081.7 1348.5 L1081.02 1342 L1080.04 1335.5 L1078.98 1329 L1078.03 1322.5 L1077.36 1316 L1077.02 1309.5 L1076.95 1303 L1076.95 1202Z" stroke="url(#h68)"/><path d="M1173.05 1191 C1173.05 1167.8 1188.83 1149 1208.3 1149 C1227.77 1149 1243.55 1167.8 1243.55 1191 L1243.55 1303 L1243.46 1309.5 L1243.06 1316 L1242.25 1322.5 L1241.11 1329 L1239.84 1335.5 L1238.67 1342 L1237.85 1348.5 L1237.55 1355 L1237.85 1361.5 L1238.67 1368 L1239.84 1374.5 L1241.11 1381 L1242.25 1387.5 L1243.06 1394 L1243.46 1400.5 L1243.55 1407 L1243.55 1526 C1243.55 1548.8 1229.45 1564 1208.3 1564 C1187.15 1564 1173.05 1548.8 1173.05 1526 L1173.05 1407 L1173.14 1400.5 L1173.54 1394 L1174.35 1387.5 L1175.49 1381 L1176.76 1374.5 L1177.93 1368 L1178.75 1361.5 L1179.05 1355 L1178.75 1348.5 L1177.93 1342 L1176.76 1335.5 L1175.49 1329 L1174.35 1322.5 L1173.54 1316 L1173.14 1309.5 L1173.05 1303 L1173.05 1191Z" stroke="url(#h69)"/><path d="M1269.15 1179.5 C1269.15 1156.3 1284.93 1137.5 1304.4 1137.5 C1323.87 1137.5 1339.65 1156.3 1339.65 1179.5 L1339.65 1303 L1339.55 1309.5 L1339.07 1316 L1338.13 1322.5 L1336.81 1329 L1335.32 1335.5 L1333.95 1342 L1332.99 1348.5 L1332.65 1355 L1332.99 1361.5 L1333.95 1368 L1335.32 1374.5 L1336.81 1381 L1338.13 1387.5 L1339.07 1394 L1339.55 1400.5 L1339.65 1407 L1339.65 1537.5 C1339.65 1560.3 1325.55 1575.5 1304.4 1575.5 C1283.25 1575.5 1269.15 1560.3 1269.15 1537.5 L1269.15 1407 L1269.25 1400.5 L1269.73 1394 L1270.67 1387.5 L1271.99 1381 L1273.48 1374.5 L1274.85 1368 L1275.81 1361.5 L1276.15 1355 L1275.81 1348.5 L1274.85 1342 L1273.48 1335.5 L1271.99 1329 L1270.67 1322.5 L1269.73 1316 L1269.25 1309.5 L1269.15 1303 L1269.15 1179.5Z" stroke="url(#h70)"/></g>
<g fill="#c4c4c4" filter="url(#bl1)"><ellipse cx="55.1" cy="1270" rx="5.5" ry="1.6"/><ellipse cx="55.1" cy="1441" rx="5.5" ry="1.6"/><ellipse cx="151.2" cy="1262.5" rx="5.5" ry="1.6"/><ellipse cx="151.2" cy="1448.5" rx="5.5" ry="1.6"/><ellipse cx="247.3" cy="1254" rx="5.5" ry="1.6"/><ellipse cx="247.3" cy="1456" rx="5.5" ry="1.6"/><ellipse cx="343.4" cy="1243" rx="5.5" ry="1.6"/><ellipse cx="343.4" cy="1467" rx="5.5" ry="1.6"/><ellipse cx="439.5" cy="1232.5" rx="5.5" ry="1.6"/><ellipse cx="439.5" cy="1479" rx="5.5" ry="1.6"/><ellipse cx="535.6" cy="1222" rx="5.5" ry="1.6"/><ellipse cx="535.6" cy="1487.5" rx="5.5" ry="1.6"/><ellipse cx="631.7" cy="1215" rx="5.5" ry="1.6"/><ellipse cx="631.7" cy="1497" rx="5.5" ry="1.6"/><ellipse cx="727.8" cy="1203.2" rx="5.5" ry="1.6"/><ellipse cx="727.8" cy="1508.3" rx="5.5" ry="1.6"/><ellipse cx="823.9" cy="1191" rx="5.5" ry="1.6"/><ellipse cx="823.9" cy="1520.5" rx="5.5" ry="1.6"/><ellipse cx="920" cy="1179.5" rx="5.5" ry="1.6"/><ellipse cx="920" cy="1531" rx="5.5" ry="1.6"/><ellipse cx="1016.1" cy="1169.5" rx="5.5" ry="1.6"/><ellipse cx="1016.1" cy="1543" rx="5.5" ry="1.6"/><ellipse cx="1112.2" cy="1159.5" rx="5.5" ry="1.6"/><ellipse cx="1112.2" cy="1554" rx="5.5" ry="1.6"/><ellipse cx="1208.3" cy="1148.5" rx="5.5" ry="1.6"/><ellipse cx="1208.3" cy="1564.5" rx="5.5" ry="1.6"/><ellipse cx="1304.4" cy="1137" rx="5.5" ry="1.6"/><ellipse cx="1304.4" cy="1576" rx="5.5" ry="1.6"/></g>
<g fill="none" stroke-width="5.4" filter="url(#bl1)"><path d="M21.35 1306.5 C21.35 1286.62 36.46 1270.5 55.1 1270.5 C73.74 1270.5 88.85 1286.62 88.85 1306.5 L88.85 1412.5 C88.85 1433.78 80.75 1440.5 55.1 1440.5 C29.45 1440.5 21.35 1433.78 21.35 1412.5 L21.35 1306.5Z" stroke="url(#g57)"/><path d="M115.95 1303 C115.95 1280.91 131.73 1263 151.2 1263 C170.67 1263 186.45 1280.91 186.45 1303 L186.45 1415 C186.45 1437.44 175.17 1448 151.2 1448 C127.23 1448 115.95 1437.44 115.95 1415 L115.95 1303Z" stroke="url(#g58)"/><path d="M212.05 1296.5 C212.05 1273.3 227.83 1254.5 247.3 1254.5 C266.77 1254.5 282.55 1273.3 282.55 1296.5 L282.55 1420.5 C282.55 1442.9 269.86 1455.5 247.3 1455.5 C224.74 1455.5 212.05 1442.9 212.05 1420.5 L212.05 1296.5Z" stroke="url(#g59)"/><path d="M308.15 1285.5 C308.15 1262.3 323.93 1243.5 343.4 1243.5 C362.87 1243.5 378.65 1262.3 378.65 1285.5 L378.65 1429.5 C378.65 1451.7 364.55 1466.5 343.4 1466.5 C322.25 1466.5 308.15 1451.7 308.15 1429.5 L308.15 1285.5Z" stroke="url(#g60)"/><path d="M404.25 1275 C404.25 1251.8 420.03 1233 439.5 1233 C458.97 1233 474.75 1251.8 474.75 1275 L474.75 1440.5 C474.75 1463.3 460.65 1478.5 439.5 1478.5 C418.35 1478.5 404.25 1463.3 404.25 1440.5 L404.25 1275Z" stroke="url(#g61)"/><path d="M500.35 1264.5 C500.35 1241.3 516.13 1222.5 535.6 1222.5 C555.07 1222.5 570.85 1241.3 570.85 1264.5 L570.85 1449 C570.85 1471.8 556.75 1487 535.6 1487 C514.45 1487 500.35 1471.8 500.35 1449 L500.35 1264.5Z" stroke="url(#g62)"/><path d="M596.45 1257.5 C596.45 1234.3 612.23 1215.5 631.7 1215.5 C651.17 1215.5 666.95 1234.3 666.95 1257.5 L666.95 1458.5 C666.95 1481.3 652.85 1496.5 631.7 1496.5 C610.55 1496.5 596.45 1481.3 596.45 1458.5 L596.45 1257.5Z" stroke="url(#g63)"/><path d="M692.55 1245.7 C692.55 1222.5 708.33 1203.7 727.8 1203.7 C747.27 1203.7 763.05 1222.5 763.05 1245.7 L763.05 1469.8 C763.05 1492.6 748.95 1507.8 727.8 1507.8 C706.65 1507.8 692.55 1492.6 692.55 1469.8 L692.55 1245.7Z" stroke="url(#g64)"/><path d="M788.65 1233.5 C788.65 1210.3 804.43 1191.5 823.9 1191.5 C843.37 1191.5 859.15 1210.3 859.15 1233.5 L859.15 1303 L859.14 1309.5 L859.07 1316 L858.93 1322.5 L858.74 1329 L858.53 1335.5 L858.34 1342 L858.2 1348.5 L858.15 1355 L858.2 1361.5 L858.34 1368 L858.53 1374.5 L858.74 1381 L858.93 1387.5 L859.07 1394 L859.14 1400.5 L859.15 1407 L859.15 1482 C859.15 1504.8 845.05 1520 823.9 1520 C802.75 1520 788.65 1504.8 788.65 1482 L788.65 1407 L788.66 1400.5 L788.73 1394 L788.87 1387.5 L789.06 1381 L789.27 1374.5 L789.46 1368 L789.6 1361.5 L789.65 1355 L789.6 1348.5 L789.46 1342 L789.27 1335.5 L789.06 1329 L788.87 1322.5 L788.73 1316 L788.66 1309.5 L788.65 1303 L788.65 1233.5Z" stroke="url(#g65)"/><path d="M884.75 1222 C884.75 1198.8 900.53 1180 920 1180 C939.47 1180 955.25 1198.8 955.25 1222 L955.25 1303 L955.22 1309.5 L955.09 1316 L954.82 1322.5 L954.44 1329 L954.01 1335.5 L953.62 1342 L953.35 1348.5 L953.25 1355 L953.35 1361.5 L953.62 1368 L954.01 1374.5 L954.44 1381 L954.82 1387.5 L955.09 1394 L955.22 1400.5 L955.25 1407 L955.25 1492.5 C955.25 1515.3 941.15 1530.5 920 1530.5 C898.85 1530.5 884.75 1515.3 884.75 1492.5 L884.75 1407 L884.78 1400.5 L884.91 1394 L885.18 1387.5 L885.56 1381 L885.99 1374.5 L886.38 1368 L886.65 1361.5 L886.75 1355 L886.65 1348.5 L886.38 1342 L885.99 1335.5 L885.56 1329 L885.18 1322.5 L884.91 1316 L884.78 1309.5 L884.75 1303 L884.75 1222Z" stroke="url(#g66)"/><path d="M980.85 1212 C980.85 1188.8 996.63 1170 1016.1 1170 C1035.57 1170 1051.35 1188.8 1051.35 1212 L1051.35 1303 L1051.3 1309.5 L1051.06 1316 L1050.59 1322.5 L1049.93 1329 L1049.18 1335.5 L1048.5 1342 L1048.02 1348.5 L1047.85 1355 L1048.02 1361.5 L1048.5 1368 L1049.18 1374.5 L1049.93 1381 L1050.59 1387.5 L1051.06 1394 L1051.3 1400.5 L1051.35 1407 L1051.35 1504.5 C1051.35 1527.3 1037.25 1542.5 1016.1 1542.5 C994.95 1542.5 980.85 1527.3 980.85 1504.5 L980.85 1407 L980.9 1400.5 L981.14 1394 L981.61 1387.5 L982.27 1381 L983.02 1374.5 L983.7 1368 L984.18 1361.5 L984.35 1355 L984.18 1348.5 L983.7 1342 L983.02 1335.5 L982.27 1329 L981.61 1322.5 L981.14 1316 L980.9 1309.5 L980.85 1303 L980.85 1212Z" stroke="url(#g67)"/><path d="M1076.95 1202 C1076.95 1178.8 1092.73 1160 1112.2 1160 C1131.67 1160 1147.45 1178.8 1147.45 1202 L1147.45 1303 L1147.38 1309.5 L1147.04 1316 L1146.37 1322.5 L1145.42 1329 L1144.36 1335.5 L1143.38 1342 L1142.7 1348.5 L1142.45 1355 L1142.7 1361.5 L1143.38 1368 L1144.36 1374.5 L1145.42 1381 L1146.37 1387.5 L1147.04 1394 L1147.38 1400.5 L1147.45 1407 L1147.45 1515.5 C1147.45 1538.3 1133.35 1553.5 1112.2 1553.5 C1091.05 1553.5 1076.95 1538.3 1076.95 1515.5 L1076.95 1407 L1077.02 1400.5 L1077.36 1394 L1078.03 1387.5 L1078.98 1381 L1080.04 1374.5 L1081.02 1368 L1081.7 1361.5 L1081.95 1355 L1081.7 1348.5 L1081.02 1342 L1080.04 1335.5 L1078.98 1329 L1078.03 1322.5 L1077.36 1316 L1077.02 1309.5 L1076.95 1303 L1076.95 1202Z" stroke="url(#g68)"/><path d="M1173.05 1191 C1173.05 1167.8 1188.83 1149 1208.3 1149 C1227.77 1149 1243.55 1167.8 1243.55 1191 L1243.55 1303 L1243.46 1309.5 L1243.06 1316 L1242.25 1322.5 L1241.11 1329 L1239.84 1335.5 L1238.67 1342 L1237.85 1348.5 L1237.55 1355 L1237.85 1361.5 L1238.67 1368 L1239.84 1374.5 L1241.11 1381 L1242.25 1387.5 L1243.06 1394 L1243.46 1400.5 L1243.55 1407 L1243.55 1526 C1243.55 1548.8 1229.45 1564 1208.3 1564 C1187.15 1564 1173.05 1548.8 1173.05 1526 L1173.05 1407 L1173.14 1400.5 L1173.54 1394 L1174.35 1387.5 L1175.49 1381 L1176.76 1374.5 L1177.93 1368 L1178.75 1361.5 L1179.05 1355 L1178.75 1348.5 L1177.93 1342 L1176.76 1335.5 L1175.49 1329 L1174.35 1322.5 L1173.54 1316 L1173.14 1309.5 L1173.05 1303 L1173.05 1191Z" stroke="url(#g69)"/><path d="M1269.15 1179.5 C1269.15 1156.3 1284.93 1137.5 1304.4 1137.5 C1323.87 1137.5 1339.65 1156.3 1339.65 1179.5 L1339.65 1303 L1339.55 1309.5 L1339.07 1316 L1338.13 1322.5 L1336.81 1329 L1335.32 1335.5 L1333.95 1342 L1332.99 1348.5 L1332.65 1355 L1332.99 1361.5 L1333.95 1368 L1335.32 1374.5 L1336.81 1381 L1338.13 1387.5 L1339.07 1394 L1339.55 1400.5 L1339.65 1407 L1339.65 1537.5 C1339.65 1560.3 1325.55 1575.5 1304.4 1575.5 C1283.25 1575.5 1269.15 1560.3 1269.15 1537.5 L1269.15 1407 L1269.25 1400.5 L1269.73 1394 L1270.67 1387.5 L1271.99 1381 L1273.48 1374.5 L1274.85 1368 L1275.81 1361.5 L1276.15 1355 L1275.81 1348.5 L1274.85 1342 L1273.48 1335.5 L1271.99 1329 L1270.67 1322.5 L1269.73 1316 L1269.25 1309.5 L1269.15 1303 L1269.15 1179.5Z" stroke="url(#g70)"/></g>
</g>
<path d="M241.5 288.75 L327.01 293.23 Q337 293.75 347 293.88 L423 294.87 Q433 295 443 295.21 L520.5 296.79 Q530.5 297 540.5 297.12 L666 298.63 Q676 298.75 686 298.96 L807 301.54 Q817 301.75 827 301.52 L903.5 299.73 Q913.5 299.5 923.5 299.63 L1009.5 300.75" fill="none" stroke="#ff00ff" stroke-width="5" stroke-linecap="round" stroke-linejoin="round"/>
<path d="M47.5 358.75 C80 356.17 112.5 354.18 145 351 C176.67 347.9 208.33 338.22 240 340 C272.33 341.82 304.67 362.79 337 362.5 C348 362.4 359 360.58 370 359.5 C391 357.45 412 357.05 433 352.5 C439.67 351.06 446.33 350.8 453 347.5 C461.33 343.38 469.67 334.42 478 327.5 C486.33 320.58 494.67 311.2 503 306 C512.17 300.28 521.33 297.88 530.5 296 C540.33 293.99 550.17 295.27 560 295 C598.67 293.92 637.33 294.41 676 294.5 C723 294.61 770 295.81 817 296 C881.33 296.25 945.67 291.98 1010 295 C1042 296.5 1074 301.25 1106 302 C1138 302.75 1170 299.55 1202 299.5 C1234.5 299.45 1267 301 1299.5 301.75" fill="none" stroke="#ff0000" stroke-width="5" stroke-linecap="round" stroke-linejoin="round"/>
<path d="M47 322 C79.67 322.83 112.33 324.39 145 324.5 C150 324.52 155 324.41 160 324.5 C181.67 324.91 203.33 330.3 225 331 C230 331.16 235 331.17 240 331.25 C272.33 331.77 304.67 332.59 337 332.5 C369 332.41 401 329.48 433 330.75 C448 331.34 463 332.89 478 333.75 C489.67 334.42 501.33 336.08 513 335.5 C518.83 335.21 524.67 334.53 530.5 333.75 C562.17 329.52 593.83 313.75 625.5 303.75" fill="none" stroke="#ffffff" stroke-width="5" stroke-linecap="round" stroke-linejoin="round"/>
<path d="M625.5 303.75 C642.33 296.5 659.17 289.27 676 282 C691 275.52 706 267.61 721 262.5 C739.33 256.26 757.67 252.29 776 250 C789.67 248.29 803.33 248.2 817 248 C836.67 247.71 856.33 250.14 876 250 C888.5 249.91 901 249.24 913.5 248.75 C945.67 247.49 977.83 245.59 1010 243.5 C1042 241.42 1074 237.46 1106 236.25 C1138 235.04 1170 234.74 1202 236.25 C1234.5 237.78 1267 242.42 1299.5 245.5" fill="none" stroke="#ffffff" stroke-width="5" stroke-linecap="round" stroke-linejoin="round"/>
<path d="M625.5 303.75 L650.75 314.88 Q676 326 698.5 334.25 L698.5 334.25 Q721 342.5 750.95 344.22 L787.05 346.28 Q817 348 846.61 352.83 L883.89 358.92 Q913.5 363.75 943.43 365.84 L980.07 368.41 Q1010 370.5 1039.47 376.1 L1076.53 383.15 Q1106 388.75 1136 388.52 L1172 388.23 Q1202 388 1231.73 392.04 L1299.5 401.25" fill="none" stroke="#ffffff" stroke-width="5" stroke-linecap="round" stroke-linejoin="round"/>
<path d="M48 290 L137 291.61 Q145 291.75 153 291.98 L232 294.27 Q240 294.5 247.99 294.91 L329.01 299.09 Q337 299.5 345 299.6 L425 300.65 Q433 300.75 441 300.99 L500 302.76 Q508 303 515.97 302.29 L530.5 301" fill="none" stroke="#00ff00" stroke-width="5" stroke-linecap="round" stroke-linejoin="round"/>
<path d="M530.5 301 L616.59 257.05 Q625.5 252.5 635.33 250.65 L666.17 244.85 Q676 243 685.86 241.36 L711.14 237.14 Q721 235.5 730.91 234.16 L807.09 223.84 Q817 222.5 826.98 221.83 L903.52 216.67 Q913.5 216 923.48 215.38 L1000.02 210.62 Q1010 210 1019.97 209.27 L1096.03 203.73 Q1106 203 1115.98 202.38 L1192.02 197.62 Q1202 197 1211.99 197.36 L1299.5 200.5" fill="none" stroke="#00ff00" stroke-width="5" stroke-linecap="round" stroke-linejoin="round"/>
<path d="M530.5 301 L616.43 340.8 Q625.5 345 635.34 346.75 L666.16 352.25 Q676 354 685.9 355.43 L711.1 359.07 Q721 360.5 730.87 362.12 L807.13 374.63 Q817 376.25 826.95 377.2 L903.55 384.55 Q913.5 385.5 923.48 386.15 L1000.02 391.1 Q1010 391.75 1019.99 392.3 L1096.01 396.45 Q1106 397 1115.98 397.57 L1192.02 401.93 Q1202 402.5 1212 402.63 L1299.5 403.75" fill="none" stroke="#00ff00" stroke-width="5" stroke-linecap="round" stroke-linejoin="round"/>
<path d="M50 331.25 C58.33 332.5 66.67 334.04 75 335 C83.33 335.96 91.67 336.58 100 337 C108.33 337.42 116.67 337.41 125 337.5 C135 337.61 145 336.9 155 337.5 C161.67 337.9 168.33 338.71 175 339.5 C183.33 340.48 191.67 342 200 343 C208.33 344 216.67 345.17 225 345.5 C233.33 345.83 241.67 345 250 345 C258.33 345 266.67 345 275 345.5 C283.33 346 291.67 347.09 300 348 C312.33 349.34 324.67 351.21 337 352.5 C369 355.84 401 357.28 433 358.25 C448 358.71 463 359.56 478 359 C495.5 358.35 513 355.37 530.5 353.75 C562.17 350.82 593.83 354.28 625.5 346.25 C642.33 341.98 659.17 336.44 676 328.75 C691 321.89 706 312.08 721 303.75" fill="none" stroke="#ffff00" stroke-width="5" stroke-linecap="round" stroke-linejoin="round"/>
<path d="M721 303.75 C739.33 298.75 757.67 292.17 776 288.75 C789.67 286.2 803.33 286.21 817 283.75 C828.33 281.71 839.67 278.9 851 276 C869.33 271.32 887.67 261.4 906 259.5 C910.67 259.02 915.33 258.94 920 258.75 C950 257.53 980 264.01 1010 262.5 C1042 260.89 1074 249.38 1106 248.25 C1138 247.12 1170 256.65 1202 255.75 C1234.5 254.84 1267 246.92 1299.5 242.5" fill="none" stroke="#ffff00" stroke-width="5" stroke-linecap="round" stroke-linejoin="round"/>
<path d="M721 303.75 C737 310.42 753 317.08 769 323.75 C785 330.42 801 338.9 817 343.75 C849.17 353.5 881.33 348.57 913.5 351 C934.33 352.58 955.17 355.19 976 355.75 C987.33 356.05 998.67 356.04 1010 355.75 C1042 354.92 1074 346.17 1106 346.25 C1138 346.33 1170 355.63 1202 356.25 C1233.92 356.87 1265.83 352.08 1297.75 350" fill="none" stroke="#ffff00" stroke-width="5" stroke-linecap="round" stroke-linejoin="round"/>
<path d="M241.5 746.25 L327.01 750.28 Q337 750.75 347 750.93 L422 752.32 Q432 752.5 442 752.63 L518.5 753.62 Q528.5 753.75 538.5 753.9 L666 755.85 Q676 756 686 756.19 L807 758.56 Q817 758.75 827 758.54 L903.5 756.96 Q913.5 756.75 923.5 756.88 L1009.5 758" fill="none" stroke="#ff00ff" stroke-width="5" stroke-linecap="round" stroke-linejoin="round"/>
<path d="M47.5 816.25 C80 813.5 112.5 810.96 145 808 C176.67 805.12 208.33 796.67 240 798.75 C272.33 800.87 304.67 821.72 337 821.25 C348 821.09 359 819.2 370 818 C390.67 815.75 411.33 814.35 432 810 C439 808.53 446 808.3 453 805 C461.33 801.07 469.67 793.12 478 786.25 C486.33 779.38 494.67 769.15 503 763.75 C511.5 758.24 520 755.74 528.5 753.75 C539 751.29 549.5 752.84 560 752.5 C598.67 751.26 637.33 751.87 676 752 C723 752.15 770 753.54 817 753.75 C881.33 754.04 945.67 749.28 1010 752.5 C1042 754.1 1074 759.17 1106 760 C1138 760.83 1170 757.59 1202 757.5 C1234.5 757.4 1267 758.83 1299.5 759.5" fill="none" stroke="#ff0000" stroke-width="5" stroke-linecap="round" stroke-linejoin="round"/>
<path d="M47.5 743 L131.02 738.72 Q145 738 158.93 736.64 L226.07 730.11 Q240 728.75 254 729.04 L323 730.46 Q337 730.75 350 729.75 L350 729.75 Q363 728.75 376.05 723.69 L412.45 709.56 Q425.5 704.5 439.48 703.72 L514.52 699.53 Q528.5 698.75 542.31 701.05 L546.19 701.7 Q560 704 573.78 706.47 L615.42 713.93 Q629.2 716.4 641.61 722.88 L657.59 731.22 Q670 737.7 683.49 741.45 L688.51 742.85 Q702 746.6 710.9 747.45 L710.9 747.45 Q719.8 748.3 724.2 748.55 L728.6 748.8" fill="none" stroke="#ffff00" stroke-width="5" stroke-linecap="round" stroke-linejoin="round"/>
<path d="M728.6 748.8 C744.4 748.87 760.2 749.28 776 749 C784 748.86 792 748.62 800 748.3 C805.67 748.08 811.33 748.23 817 747.5 C828.33 746.03 839.67 742.18 851 737.5 C859.33 734.06 867.67 728.28 876 725 C888.5 720.08 901 718.53 913.5 716.25 C945.67 710.38 977.83 714.73 1010 711.25 C1042 707.79 1074 704.58 1106 695.5 C1121.17 691.19 1136.33 684.32 1151.5 680 C1168.33 675.21 1185.17 669.32 1202 668.75 C1218.5 668.19 1235 671.53 1251.5 676.25 C1269 681.25 1286.5 691.25 1304 698.75" fill="none" stroke="#ffff00" stroke-width="5" stroke-linecap="round" stroke-linejoin="round"/>
<path d="M728.6 748.8 C744.4 751.53 760.2 753.28 776 757 C784 758.88 792 761.39 800 763.4 C805.67 764.83 811.33 765.96 817 767.5 C833.33 771.93 849.67 780.16 866 785 C881.83 789.69 897.67 793.51 913.5 796.25 C945.67 801.82 977.83 799.04 1010 800.5 C1042 801.95 1074 804.04 1106 805 C1138 805.96 1170 804.16 1202 806.25 C1236.33 808.49 1270.67 814.58 1305 818.75" fill="none" stroke="#ffff00" stroke-width="5" stroke-linecap="round" stroke-linejoin="round"/>
<path d="M48.75 732 L115.06 727.69 Q145 725.75 174.99 725.12 L210.01 724.38 Q240 723.75 257.5 724.38 L257.5 724.38 Q275 725 304.71 720.81 L307.29 720.44 Q337 716.25 366.98 715.07 L402.02 713.68 Q432 712.5 461.96 714.05 L498.54 715.95 Q528.5 717.5 544.25 724.5 L544.25 724.5 Q560 731.5 587.27 744 L623.9 760.8" fill="none" stroke="#ffffff" stroke-width="5" stroke-linecap="round" stroke-linejoin="round"/>
<path d="M623.9 760.8 C626.27 760.03 628.63 759.6 631 758.5 C633.97 757.12 636.93 754.95 639.9 752.8 C646.4 748.08 652.9 740.16 659.4 735 C667.7 728.41 676 723.63 684.3 719 C690.2 715.71 696.1 712.32 702 710.2 C707.93 708.07 713.87 706.9 719.8 706.3 C725.7 705.71 731.6 706.46 737.5 706.6 C750.33 706.9 763.17 707.65 776 708 C789.67 708.38 803.33 710.36 817 708.75 C833.33 706.82 849.67 698.91 866 695 C881.83 691.21 897.67 687.49 913.5 685.5 C926 683.93 938.5 683.49 951 683 C970.67 682.23 990.33 684.04 1010 683.25 C1042 681.97 1074 678.42 1106 672.5 C1121.17 669.69 1136.33 665.21 1151.5 662.5 C1168.33 659.49 1185.17 655.7 1202 655.75 C1218.5 655.79 1235 657.01 1251.5 662.5 C1270.25 668.74 1289 683.33 1307.75 693.75" fill="none" stroke="#ffffff" stroke-width="5" stroke-linecap="round" stroke-linejoin="round"/>
<path d="M623.9 760.8 C635.73 763.47 647.57 764.74 659.4 768.8 C667.7 771.65 676 775.82 684.3 779.4 C699.07 785.78 713.83 793.4 728.6 799 C744.4 804.99 760.2 810.95 776 813.75 C789.67 816.17 803.33 816.75 817 816.25 C833.33 815.65 849.67 810.42 866 808.75 C881.83 807.13 897.67 806.33 913.5 806.25 C945.67 806.08 977.83 813.13 1010 815 C1042 816.86 1074 814.26 1106 817.5 C1135.33 820.47 1164.67 830.4 1194 832.5 C1196.67 832.69 1199.33 832.85 1202 833 C1234.5 834.86 1267 832.67 1299.5 832.5" fill="none" stroke="#ffffff" stroke-width="5" stroke-linecap="round" stroke-linejoin="round"/>
<path d="M48 746.75 L137 747.9 Q145 748 153 748.27 L232 750.98 Q240 751.25 247.99 751.62 L329.01 755.38 Q337 755.75 345 755.9 L424 757.35 Q432 757.5 440 757.77 L497 759.73 Q505 760 512.97 759.32 L528.5 758" fill="none" stroke="#00ff00" stroke-width="5" stroke-linecap="round" stroke-linejoin="round"/>
<path d="M528.5 758 L616.09 713.3 Q625 708.75 634.82 706.87 L666.18 700.88 Q676 699 685.88 697.46 L711.12 693.54 Q721 692 730.91 690.63 L807.09 680.12 Q817 678.75 826.98 678.16 L903.52 673.59 Q913.5 673 923.48 672.38 L1000.02 667.62 Q1010 667 1019.97 666.22 L1096.03 660.28 Q1106 659.5 1115.98 658.85 L1192.02 653.9 Q1202 653.25 1211.99 653.61 L1299.5 656.75" fill="none" stroke="#00ff00" stroke-width="5" stroke-linecap="round" stroke-linejoin="round"/>
<path d="M528.5 758 L615.9 797.85 Q625 802 634.85 803.74 L666.15 809.26 Q676 811 685.9 812.43 L711.1 816.07 Q721 817.5 730.87 819.09 L807.13 831.41 Q817 833 826.96 833.93 L903.54 841.07 Q913.5 842 923.48 842.62 L1000.02 847.38 Q1010 848 1019.99 848.55 L1096.01 852.7 Q1106 853.25 1115.98 853.82 L1192.02 858.18 Q1202 858.75 1212 858.88 L1299.5 860" fill="none" stroke="#00ff00" stroke-width="5" stroke-linecap="round" stroke-linejoin="round"/>
<path d="M57 1416.75 L139.01 1419.56 Q152 1420 164.99 1420.58 L234.51 1423.67 Q247.5 1424.25 260.38 1422.46 L312.12 1415.29 Q325 1413.5 334.5 1412.12 L334.5 1412.12 Q344 1410.75 356.47 1414.43 L375.53 1420.07 Q388 1423.75 400.86 1425.62 L426.64 1429.38 Q439.5 1431.25 448.75 1428.75 L448.75 1428.75 Q458 1426.25 466.91 1416.78 L469.09 1414.47 Q478 1405 486.64 1395.28 L489.36 1392.22 Q498 1382.5 505.5 1376.25 L505.5 1376.25 Q513 1370 524.25 1367.12 L524.25 1367.12 Q535.5 1364.25 548.47 1363.41 L618.53 1358.84 Q631.5 1358 644.49 1357.49 L663.01 1356.76 Q676 1356.25 689 1356.44 L714.5 1356.81 Q727.5 1357 740.5 1357.07 L810 1357.43 Q823 1357.5 835.97 1356.65 L848.03 1355.85 Q861 1355 873.99 1355.56 L906.01 1356.94 Q919 1357.5 932 1357.33 L1002 1356.42 Q1015 1356.25 1028 1356.01 L1098 1354.74 Q1111 1354.5 1124 1354.57 L1194 1354.93 Q1207 1355 1219.99 1354.4 L1304 1350.5" fill="none" stroke="#ff0000" stroke-width="5" stroke-linecap="round" stroke-linejoin="round"/>
<path d="M57 1373.25 L139.01 1369.37 Q152 1368.75 164.94 1367.5 L234.56 1360.75 Q247.5 1359.5 260.49 1358.93 L325.01 1356.07 Q338 1355.5 351 1355.18 L426.5 1353.32 Q439.5 1353 442.25 1352.5 L445 1352" fill="none" stroke="#ffffff" stroke-width="5" stroke-linecap="round" stroke-linejoin="round"/>
<path d="M445 1352 L523.41 1321.03 Q535.5 1316.25 548.4 1314.67 L618.6 1306.08 Q631.5 1304.5 644.43 1303.12 L663.07 1301.13 Q676 1299.75 688.99 1299.18 L714.51 1298.07 Q727.5 1297.5 740.49 1296.92 L810.01 1293.83 Q823 1293.25 835.97 1292.31 L848.03 1291.44 Q861 1290.5 874 1290.84 L906 1291.66 Q919 1292 931.99 1291.56 L1002.01 1289.19 Q1015 1288.75 1027.87 1286.91 L1098.13 1276.84 Q1111 1275 1123.89 1273.32 L1194.11 1264.18 Q1207 1262.5 1219.92 1261.09 L1303 1252" fill="none" stroke="#ffffff" stroke-width="5" stroke-linecap="round" stroke-linejoin="round"/>
<path d="M445 1352 L477.11 1372.91 Q488 1380 499.63 1385.81 L523.87 1397.94 Q535.5 1403.75 548.45 1404.93 L618.55 1411.32 Q631.5 1412.5 644.46 1413.52 L663.04 1414.98 Q676 1416 688.98 1416.69 L714.52 1418.06 Q727.5 1418.75 740.49 1419.19 L810.01 1421.56 Q823 1422 835.96 1423.02 L848.04 1423.98 Q861 1425 874 1424.83 L906 1424.42 Q919 1424.25 931.99 1424.86 L1002.01 1428.14 Q1015 1428.75 1027.93 1430.1 L1098.07 1437.4 Q1111 1438.75 1123.87 1440.59 L1194.13 1450.66 Q1207 1452.5 1219.88 1454.24 L1303 1465.5" fill="none" stroke="#ffffff" stroke-width="5" stroke-linecap="round" stroke-linejoin="round"/>
<path d="M57 1330 L139 1331.51 Q152 1331.75 165 1331.72 L248.5 1331.5" fill="none" stroke="#00ff00" stroke-width="5" stroke-linecap="round" stroke-linejoin="round"/>
<path d="M248.5 1331.5 L331.67 1303.63 Q344 1299.5 356.96 1298.48 L426.54 1293.02 Q439.5 1292 452.38 1290.22 L522.62 1280.53 Q535.5 1278.75 548.45 1277.64 L618.55 1271.61 Q631.5 1270.5 644.43 1269.19 L663.07 1267.31 Q676 1266 688.96 1264.99 L714.54 1263.01 Q727.5 1262 740.45 1260.81 L810.05 1254.44 Q823 1253.25 835.97 1252.41 L906.03 1247.84 Q919 1247 931.99 1246.56 L1002.01 1244.19 Q1015 1243.75 1027.97 1242.8 L1098.03 1237.7 Q1111 1236.75 1123.99 1236.18 L1194.01 1233.07 Q1207 1232.5 1219.98 1231.82 L1303 1227.5" fill="none" stroke="#00ff00" stroke-width="5" stroke-linecap="round" stroke-linejoin="round"/>
<path d="M248.5 1331.5 L329.56 1375.32 Q341 1381.5 353.43 1385.32 L427.07 1407.93 Q439.5 1411.75 452.21 1414.5 L522.79 1429.75 Q535.5 1432.5 548.42 1433.91 L618.58 1441.59 Q631.5 1443 644.4 1444.59 L663.1 1446.91 Q676 1448.5 688.98 1449.19 L714.52 1450.56 Q727.5 1451.25 740.46 1452.27 L810.04 1457.73 Q823 1458.75 835.97 1459.59 L906.03 1464.16 Q919 1465 931.98 1465.78 L1002.02 1469.97 Q1015 1470.75 1027.97 1471.66 L1098.03 1476.59 Q1111 1477.5 1123.98 1478.18 L1194.02 1481.82 Q1207 1482.5 1219.84 1484.51 L1226.16 1485.49 Q1239 1487.5 1251.45 1491.24 L1251.55 1491.26 Q1264 1495 1275.72 1500.63 L1303 1513.75" fill="none" stroke="#00ff00" stroke-width="5" stroke-linecap="round" stroke-linejoin="round"/>
<path d="M57 1392.5 L139 1394.66 Q152 1395 165 1395.34 L234.5 1397.16 Q247.5 1397.5 260.14 1400.52 L312.36 1412.98 Q325 1416 334.5 1417.75 L334.5 1417.75 Q344 1419.5 353.5 1414.75 L353.5 1414.75 Q363 1410 372.66 1401.3 L378.34 1396.2 Q388 1387.5 398.4 1379.7 L402.6 1376.55 Q413 1368.75 425.77 1366.34 L426.73 1366.16 Q439.5 1363.75 452.5 1363.88 L475 1364.12 Q488 1364.25 500.91 1362.75 L522.59 1360.25 Q535.5 1358.75 548.49 1358.31 L631.5 1355.5" fill="none" stroke="#ffff00" stroke-width="5" stroke-linecap="round" stroke-linejoin="round"/>
<path d="M631.5 1355.5 L664 1341.99 Q676 1337 688.06 1332.14 L715.44 1321.11 Q727.5 1316.25 740.47 1315.33 L810.03 1310.42 Q823 1309.5 835.97 1308.56 L848.03 1307.69 Q861 1306.75 874 1306.92 L906 1307.33 Q919 1307.5 931.99 1306.93 L1002.01 1303.82 Q1015 1303.25 1027.99 1302.88 L1098.01 1300.87 Q1111 1300.5 1123.98 1299.76 L1194.02 1295.74 Q1207 1295 1219.97 1294.16 L1304 1288.75" fill="none" stroke="#ffff00" stroke-width="5" stroke-linecap="round" stroke-linejoin="round"/>
<path d="M631.5 1355.5 L663.97 1368.82 Q676 1373.75 688.12 1378.46 L715.38 1389.04 Q727.5 1393.75 740.49 1394.33 L810.01 1397.42 Q823 1398 835.89 1399.7 L848.11 1401.3 Q861 1403 873.98 1403.73 L906.02 1405.52 Q919 1406.25 931.99 1406.69 L1002.01 1409.06 Q1015 1409.5 1027.99 1410.07 L1098.01 1413.18 Q1111 1413.75 1124 1413.99 L1194 1415.26 Q1207 1415.5 1219.89 1417.21 L1303 1428.25" fill="none" stroke="#ffff00" stroke-width="5" stroke-linecap="round" stroke-linejoin="round"/>
<path d="M57 1339.5 L139 1341.66 Q152 1342 164.99 1342.58 L234.51 1345.67 Q247.5 1346.25 260.49 1346.68 L325.01 1348.82 Q338 1349.25 350.99 1349.83 L426.51 1353.17 Q439.5 1353.75 452.48 1354.43 L535.5 1358.75" fill="none" stroke="#ff00ff" stroke-width="5" stroke-linecap="round" stroke-linejoin="round"/>
<path d="M726 1262.5 L810.02 1257.74 Q823 1257 835.99 1256.49 L906.01 1253.76 Q919 1253.25 932 1252.98 L1002 1251.52 Q1015 1251.25 1027.99 1250.84 L1098.01 1248.66 Q1111 1248.25 1123.99 1247.81 L1194.01 1245.44 Q1207 1245 1219.99 1244.6 L1304 1242" fill="none" stroke="#ff00ff" stroke-width="5" stroke-linecap="round" stroke-linejoin="round"/>
<path d="M727.5 1451.25 L810.01 1454.92 Q823 1455.5 835.99 1456.04 L906.01 1458.96 Q919 1459.5 932 1459.84 L1002 1461.66 Q1015 1462 1028 1462.24 L1098 1463.51 Q1111 1463.75 1123.98 1464.43 L1194.02 1468.07 Q1207 1468.75 1219.99 1469.35 L1304 1473.25" fill="none" stroke="#ff00ff" stroke-width="5" stroke-linecap="round" stroke-linejoin="round"/>
<polygon points="238.4,451.25 253,483.75 246.9,483.75 246.9,514.5 229.9,514.5 229.9,483.75 223.8,483.75" fill="#00ff00"/>
<polygon points="238.4,613 253,580 246.9,580 246.9,549.5 229.9,549.5 229.9,580 223.8,580" fill="#00ff00"/>
<polygon points="628.9,458.75 639.7,483 635.5,483 635.5,506.25 622.3,506.25 622.3,483 618.1,483" fill="#ffffff"/>
<polygon points="628.9,590 639.7,566.25 635.5,566.25 635.5,543 622.3,543 622.3,566.25 618.1,566.25" fill="#ffffff"/>
<polygon points="720.5,466.25 729.6,486.25 725.6,486.25 725.6,505.5 715.4,505.5 715.4,486.25 711.4,486.25" fill="#ffff00"/>
<polygon points="720.5,583 729.6,562.5 725.6,562.5 725.6,543 715.4,543 715.4,562.5 711.4,562.5" fill="#ffff00"/>
<polygon points="1009.3,481.75 1016.8,498.25 1013.7,498.25 1013.7,513.75 1004.9,513.75 1004.9,498.25 1001.8,498.25" fill="#ff0000"/>
<polygon points="1009.3,567.5 1016.8,551.75 1013.7,551.75 1013.7,536.25 1004.9,536.25 1004.9,551.75 1001.8,551.75" fill="#ff0000"/>
<polygon points="539,1192.9 553.6,1160.2 547.8,1160.2 547.8,1129.2 530.2,1129.2 530.2,1160.2 524.4,1160.2" fill="#ff0000"/>
<polygon points="726.6,1192.9 741.2,1160.2 735.4,1160.2 735.4,1129.2 717.8,1129.2 717.8,1160.2 712,1160.2" fill="#00ff00"/>
<polygon points="349.7,1495.3 364.1,1528.1 358.2,1528.1 358.2,1558.5 341.2,1558.5 341.2,1528.1 335.3,1528.1" fill="#ffffff"/>
<polygon points="441.9,1495.3 456.3,1528.1 450.5,1528.1 450.5,1558.5 433.3,1558.5 433.3,1528.1 427.5,1528.1" fill="#ffff00"/>
<text x="238.1" y="539.25" font-size="23.9" fill="#fff" text-anchor="middle" font-weight="normal">Initiation</text>
<text x="610" y="530.75" font-size="23.9" fill="#fff" text-anchor="middle" font-weight="normal">L3 replication</text>
<text x="773.5" y="530.75" font-size="23.9" fill="#fff" text-anchor="middle" font-weight="normal">L4 replication</text>
<text x="1007.1" y="533" font-size="23.9" fill="#fff" text-anchor="middle" font-weight="normal">Termination</text>
<text x="546.6" y="1125" font-size="23.9" fill="#fff" text-anchor="middle" font-weight="normal">Termination</text>
<text x="726.1" y="1125" font-size="23.9" fill="#fff" text-anchor="middle" font-weight="normal">Initiation</text>
<text x="331" y="1579" font-size="23.9" fill="#fff" text-anchor="middle" font-weight="normal">L3 replication</text>
<text x="490.8" y="1579" font-size="23.9" fill="#fff" text-anchor="middle" font-weight="normal">L4 replication</text>
<line x1="29.6" y1="101.2" x2="61.2" y2="101.2" stroke="#00ff00" stroke-width="4.6"/>
<text x="65.2" y="109.4" font-size="23.9" fill="#fff" text-anchor="start" font-weight="normal">Ori</text>
<line x1="134.4" y1="101.2" x2="165.5" y2="101.2" stroke="#ffffff" stroke-width="4.6"/>
<text x="169.6" y="109.4" font-size="23.9" fill="#fff" text-anchor="start" font-weight="normal">L3</text>
<line x1="29.6" y1="130.9" x2="61.2" y2="130.9" stroke="#ffff00" stroke-width="4.6"/>
<text x="65.2" y="139" font-size="23.9" fill="#fff" text-anchor="start" font-weight="normal">L4</text>
<line x1="134.4" y1="130.9" x2="165.5" y2="130.9" stroke="#ff0000" stroke-width="4.6"/>
<text x="169.6" y="139" font-size="23.9" fill="#fff" text-anchor="start" font-weight="normal">Ter</text>
<line x1="29.6" y1="162.5" x2="61.2" y2="162.5" stroke="#ff00ff" stroke-width="4.6"/>
<text x="65.2" y="169.8" font-size="23.9" fill="#fff" text-anchor="start" font-weight="normal">Replisome</text>
<line x1="29.6" y1="1130.9" x2="61.2" y2="1130.9" stroke="#00ff00" stroke-width="4.6"/>
<text x="65.2" y="1139.5" font-size="23.9" fill="#fff" text-anchor="start" font-weight="normal">Ori</text>
<line x1="134.4" y1="1130.9" x2="165.5" y2="1130.9" stroke="#ffffff" stroke-width="4.6"/>
<text x="169.6" y="1139.5" font-size="23.9" fill="#fff" text-anchor="start" font-weight="normal">L3</text>
<line x1="29.6" y1="1160.9" x2="61.2" y2="1160.9" stroke="#ffff00" stroke-width="4.6"/>
<text x="65.2" y="1170.1" font-size="23.9" fill="#fff" text-anchor="start" font-weight="normal">L4</text>
<line x1="134.4" y1="1160.9" x2="165.5" y2="1160.9" stroke="#ff0000" stroke-width="4.6"/>
<text x="169.6" y="1170.1" font-size="23.9" fill="#fff" text-anchor="start" font-weight="normal">Ter</text>
<line x1="29.6" y1="1192.7" x2="61.2" y2="1192.7" stroke="#ff00ff" stroke-width="4.6"/>
<text x="65.2" y="1200" font-size="23.9" fill="#fff" text-anchor="start" font-weight="normal">Replisome</text>
<path d="M6.3 980.4 v-4.6 M46.8 980.4 v-4.6 M87.4 980.4 v-4.6 M102.75 980.4 v-4.6 M143.25 980.4 v-4.6 M183.85 980.4 v-4.6 M199.2 980.4 v-4.6 M239.7 980.4 v-4.6 M280.3 980.4 v-4.6 M295.65 980.4 v-4.6 M336.15 980.4 v-4.6 M376.75 980.4 v-4.6 M392.1 980.4 v-4.6 M432.6 980.4 v-4.6 M473.2 980.4 v-4.6 M488.55 980.4 v-4.6 M529.05 980.4 v-4.6 M569.65 980.4 v-4.6 M585 980.4 v-4.6 M625.5 980.4 v-4.6 M666.1 980.4 v-4.6 M681.45 980.4 v-4.6 M721.95 980.4 v-4.6 M762.55 980.4 v-4.6 M777.9 980.4 v-4.6 M818.4 980.4 v-4.6 M859 980.4 v-4.6 M874.35 980.4 v-4.6 M914.85 980.4 v-4.6 M955.45 980.4 v-4.6 M970.8 980.4 v-4.6 M1011.3 980.4 v-4.6 M1051.9 980.4 v-4.6 M1067.25 980.4 v-4.6 M1107.75 980.4 v-4.6 M1148.35 980.4 v-4.6 M1163.7 980.4 v-4.6 M1204.2 980.4 v-4.6 M1244.8 980.4 v-4.6 M1260.15 980.4 v-4.6 M1300.65 980.4 v-4.6 M1341.25 980.4 v-4.6" stroke="#3c3c3c" stroke-width="1" fill="none"/>
<path d="M18.8 1612.8 v-4.6 M55 1612.8 v-4.6 M91.6 1612.8 v-4.6 M115.1 1612.8 v-4.6 M151.3 1612.8 v-4.6 M187.9 1612.8 v-4.6 M211.4 1612.8 v-4.6 M247.6 1612.8 v-4.6 M284.2 1612.8 v-4.6 M307.7 1612.8 v-4.6 M343.9 1612.8 v-4.6 M380.5 1612.8 v-4.6 M404 1612.8 v-4.6 M440.2 1612.8 v-4.6 M476.8 1612.8 v-4.6 M500.3 1612.8 v-4.6 M536.5 1612.8 v-4.6 M573.1 1612.8 v-4.6 M596.6 1612.8 v-4.6 M632.8 1612.8 v-4.6 M669.4 1612.8 v-4.6 M692.9 1612.8 v-4.6 M729.1 1612.8 v-4.6 M765.7 1612.8 v-4.6 M789.2 1612.8 v-4.6 M825.4 1612.8 v-4.6 M862 1612.8 v-4.6 M885.5 1612.8 v-4.6 M921.7 1612.8 v-4.6 M958.3 1612.8 v-4.6 M981.8 1612.8 v-4.6 M1018 1612.8 v-4.6 M1054.6 1612.8 v-4.6 M1078.1 1612.8 v-4.6 M1114.3 1612.8 v-4.6 M1150.9 1612.8 v-4.6 M1174.4 1612.8 v-4.6 M1210.6 1612.8 v-4.6 M1247.2 1612.8 v-4.6 M1270.7 1612.8 v-4.6 M1306.9 1612.8 v-4.6 M1343.5 1612.8 v-4.6" stroke="#3c3c3c" stroke-width="1" fill="none"/>
<rect x="0" y="980.2" width="1347.6" height="1.7" fill="#3a3a3a"/>
<rect x="0" y="1612.6" width="1347.8" height="1.6" fill="#3a3a3a"/>
<rect x="0" y="65.3" width="1347.6" height="1" fill="#2a2a2a"/>
<rect x="0" y="1101" width="1347.8" height="1" fill="#2a2a2a"/>
<rect x="0" y="1101" width="1.2" height="511.8" fill="#555"/>
<text x="-1.1" y="1009.9" font-size="31.4" fill="#262626" text-anchor="start" font-weight="normal">0.9</text>
<text x="338.2" y="1009.9" font-size="31.4" fill="#262626" text-anchor="middle" font-weight="normal">1.2</text>
<text x="676.6" y="1009.9" font-size="31.4" fill="#262626" text-anchor="middle" font-weight="normal">1.5</text>
<text x="1012.6" y="1009.9" font-size="31.4" fill="#262626" text-anchor="middle" font-weight="normal">1.8</text>
<text x="1348.6" y="1009.9" font-size="31.4" fill="#262626" text-anchor="end" font-weight="normal">2.1</text>
<text x="575.3" y="1046.3" font-size="30.4" fill="#262626">Cell area (μm<tspan dy="-12.4" font-size="27.36">2</tspan><tspan dy="12.4">)</tspan></text>
<text x="30" y="1646.9" font-size="30.6" fill="#262626" text-anchor="middle" font-weight="normal">1</text>
<text x="340.9" y="1646.9" font-size="30.6" fill="#262626" text-anchor="middle" font-weight="normal">1.5</text>
<text x="664.2" y="1646.9" font-size="30.6" fill="#262626" text-anchor="middle" font-weight="normal">2</text>
<text x="1012.2" y="1646.9" font-size="30.6" fill="#262626" text-anchor="middle" font-weight="normal">2.5</text>
<text x="1320.2" y="1646.9" font-size="30.6" fill="#262626" text-anchor="middle" font-weight="normal">3</text>
<text x="557.5" y="1689.9" font-size="29.5" fill="#262626">Cell area (μm<tspan dy="-12" font-size="26.55">2</tspan><tspan dy="12">)</tspan></text>
<text x="0" y="52" font-size="60" fill="#000" text-anchor="start" font-weight="bold">a</text>
<text x="0.5" y="1087.2" font-size="60" fill="#000" text-anchor="start" font-weight="bold">b</text>
</svg>
</body>
</html>
